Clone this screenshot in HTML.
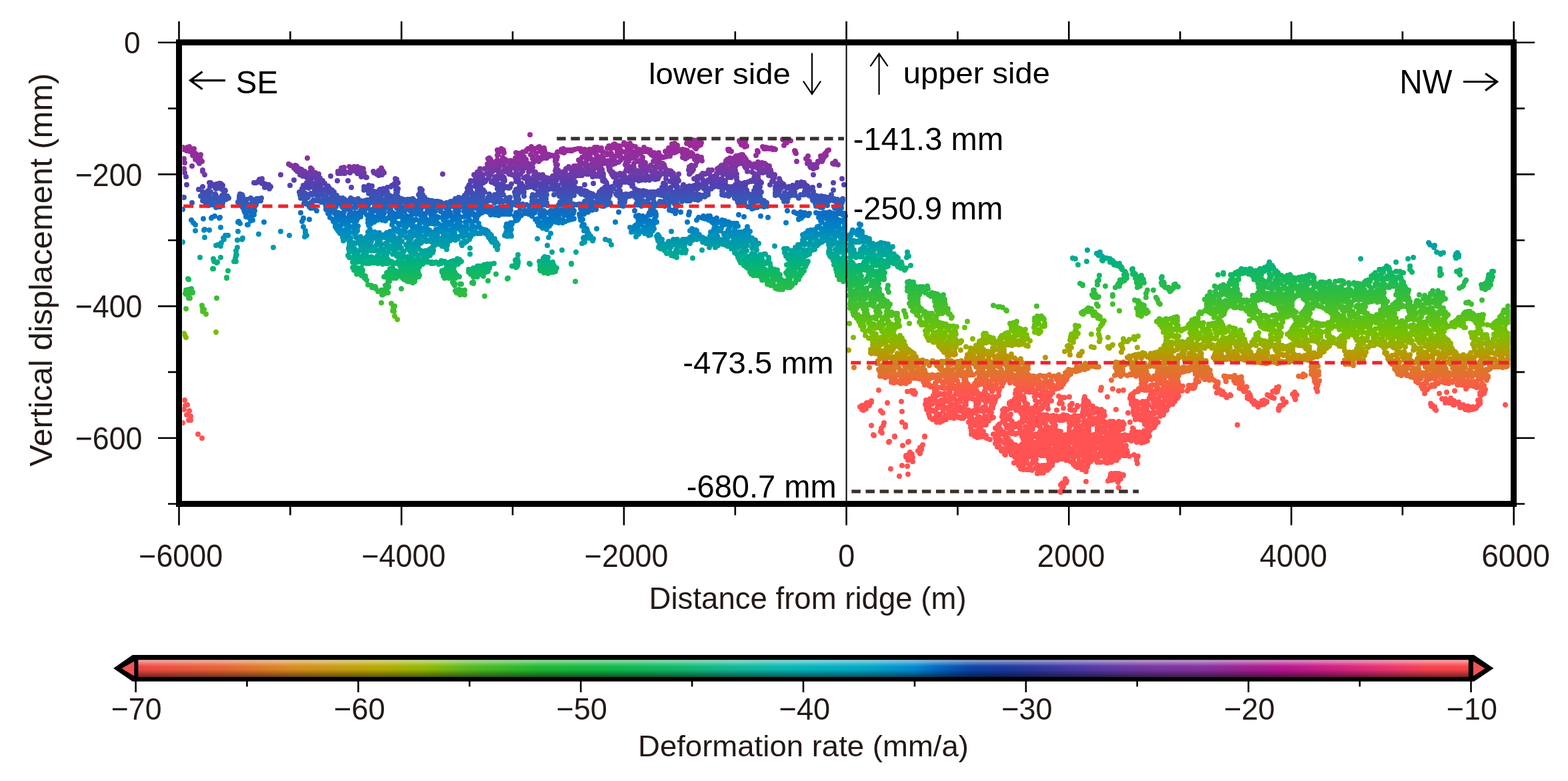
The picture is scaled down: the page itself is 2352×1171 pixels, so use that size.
<!DOCTYPE html><html><head><meta charset="utf-8"><style>html,body{margin:0;padding:0;background:#fff;overflow:hidden}svg{display:block}text{font-family:"Liberation Sans",Arial,sans-serif}</style></head><body><svg width="2352" height="1171" viewBox="0 0 2352 1171"><rect width="2352" height="1171" fill="#fff"/><defs><linearGradient id="cb" gradientUnits="userSpaceOnUse" x1="203.6" y1="0" x2="2206.5" y2="0"><stop offset="0.0000" stop-color="#f04545"/><stop offset="0.0667" stop-color="#e66535"/><stop offset="0.1167" stop-color="#d88a20"/><stop offset="0.1500" stop-color="#c89a10"/><stop offset="0.1833" stop-color="#b5aa00"/><stop offset="0.2167" stop-color="#90b800"/><stop offset="0.2500" stop-color="#55b820"/><stop offset="0.3000" stop-color="#20b830"/><stop offset="0.3500" stop-color="#10b845"/><stop offset="0.4000" stop-color="#10b865"/><stop offset="0.4500" stop-color="#10b898"/><stop offset="0.5000" stop-color="#05b5bb"/><stop offset="0.5500" stop-color="#00a5c8"/><stop offset="0.5833" stop-color="#0088d0"/><stop offset="0.6000" stop-color="#0068c0"/><stop offset="0.6250" stop-color="#0a44a8"/><stop offset="0.6500" stop-color="#1a389f"/><stop offset="0.6750" stop-color="#2e36a0"/><stop offset="0.7000" stop-color="#4438a4"/><stop offset="0.7250" stop-color="#5a38a6"/><stop offset="0.7583" stop-color="#7535a0"/><stop offset="0.8000" stop-color="#8530a0"/><stop offset="0.8333" stop-color="#a02090"/><stop offset="0.8583" stop-color="#b51590"/><stop offset="0.9000" stop-color="#d02080"/><stop offset="0.9333" stop-color="#e83070"/><stop offset="0.9667" stop-color="#f84050"/><stop offset="1.0000" stop-color="#f84545"/></linearGradient><linearGradient id="cbs" x1="0" y1="0" x2="0" y2="1"><stop offset="0" stop-color="#fff" stop-opacity="0.55"/><stop offset="0.35" stop-color="#fff" stop-opacity="0.05"/><stop offset="0.55" stop-color="#000" stop-opacity="0"/><stop offset="1" stop-color="#000" stop-opacity="0.5"/></linearGradient><linearGradient id="pg" gradientUnits="userSpaceOnUse" x1="0" y1="200" x2="0" y2="600"><stop offset="0.0000" stop-color="#a02c9c"/><stop offset="0.0550" stop-color="#9a2a9a"/><stop offset="0.1075" stop-color="#8a30a0"/><stop offset="0.1500" stop-color="#6c3aa8"/><stop offset="0.1925" stop-color="#5040b0"/><stop offset="0.2350" stop-color="#3c52b6"/><stop offset="0.2725" stop-color="#2462bc"/><stop offset="0.3075" stop-color="#0870c4"/><stop offset="0.3425" stop-color="#0080c4"/><stop offset="0.3750" stop-color="#008ebc"/><stop offset="0.4150" stop-color="#009ca8"/><stop offset="0.4500" stop-color="#00a898"/><stop offset="0.4775" stop-color="#00b084"/><stop offset="0.5250" stop-color="#10b862"/><stop offset="0.6000" stop-color="#30bc40"/><stop offset="0.6750" stop-color="#50c020"/><stop offset="0.7500" stop-color="#78c000"/><stop offset="0.8000" stop-color="#a0aa00"/><stop offset="0.8300" stop-color="#b89800"/><stop offset="0.8625" stop-color="#d08020"/><stop offset="0.9000" stop-color="#e47030"/><stop offset="0.9375" stop-color="#f46040"/><stop offset="0.9750" stop-color="#ff5450"/><stop offset="1.0000" stop-color="#ff5252"/></linearGradient></defs><clipPath id="pc"><rect x="273.5" y="68.5" width="1992.0" height="682.0"/></clipPath><g fill="url(#pg)" stroke="none" clip-path="url(#pc)"><path fill-rule="nonzero" d=""/></g><path d="M319 403h0M325 394h0M351 392h0M342 406h0M340 417h0M283 419h0M279 463h0M325 447h0M324 498h0M572 454h0M602 433h0M727 444h0M761 418h0M744 411h0M732 421h0M768 399h0M283 434h0M287 438h0M279 441h0M278 440h0M285 447h0M280 436h0M288 439h0M283 447h0M281 442h0M289 438h0M287 433h0M279 435h0M289 439h0M283 442h0M286 437h0M303 458h0M304 463h0M304 467h0M305 466h0M306 464h0M309 471h0M276 500h0M277 502h0M279 506h0M587 455h0M592 459h0M590 461h0M591 461h0M589 466h0M591 467h0M592 474h0M596 479h0M529 401h0M532 403h0M529 401h0M531 403h0M531 405h0M535 408h0M538 410h0M535 411h0M542 413h0M539 409h0M538 409h0M538 410h0M539 410h0M541 410h0M548 414h0M544 414h0M550 420h0M548 415h0M576 435h0M577 440h0M552 427h0M560 431h0M574 442h0M563 430h0M559 430h0M567 437h0M573 442h0M577 439h0M564 433h0M582 439h0M557 428h0M572 435h0M558 431h0M561 430h0M585 403h0M589 402h0M586 409h0M588 407h0M584 409h0M582 408h0M581 415h0M583 414h0M583 417h0M583 414h0M584 418h0M584 422h0M582 423h0M583 423h0M581 429h0M583 430h0M581 432h0M578 428h0M598 395h0M602 407h0M603 411h0M605 416h0M606 419h0M610 421h0M612 422h0M615 422h0M619 424h0M622 420h0M628 415h0M629 413h0M627 406h0M627 402h0M629 400h0M627 396h0M624 394h0M616 394h0M612 396h0M602 397h0M600 399h0M605 396h0M612 396h0M615 396h0M621 396h0M602 404h0M608 402h0M613 402h0M618 401h0M624 403h0M608 406h0M613 407h0M617 409h0M623 407h0M605 412h0M610 413h0M615 412h0M620 410h0M625 410h0M614 418h0M617 416h0M623 417h0M614 421h0M622 422h0M529 393h0M529 393h0M532 395h0M544 395h0M550 395h0M554 395h0M559 394h0M562 394h0M567 395h0M570 394h0M574 396h0M579 395h0M582 395h0M584 394h0M589 396h0M594 395h0M598 393h0M603 395h0M607 394h0M610 394h0M615 394h0M620 395h0M622 395h0M627 395h0M634 396h0M639 393h0M647 395h0M650 395h0M655 394h0M658 396h0M662 395h0M669 395h0M671 396h0M676 394h0M681 394h0M684 396h0M687 396h0M690 393h0M692 392h0M687 392h0M682 393h0M678 394h0M677 392h0M671 394h0M667 392h0M662 391h0M659 394h0M654 393h0M651 394h0M648 393h0M644 393h0M637 393h0M635 393h0M629 394h0M626 392h0M623 394h0M619 392h0M614 392h0M609 394h0M605 394h0M602 391h0M597 392h0M589 393h0M587 392h0M582 392h0M576 392h0M572 393h0M571 392h0M565 392h0M563 394h0M556 391h0M554 392h0M548 392h0M546 394h0M540 391h0M537 393h0M534 393h0M675 393h0M671 404h0M673 398h0M677 403h0M671 404h0M675 402h0M672 407h0M683 410h0M679 410h0M684 414h0M675 415h0M680 413h0M686 413h0M679 415h0M679 423h0M682 417h0M682 428h0M680 425h0M690 426h0M682 425h0M692 426h0M683 436h0M682 425h0M691 435h0M695 439h0M685 438h0M685 439h0M688 434h0M685 436h0M697 435h0M690 442h0M697 442h0M708 411h0M731 399h0M727 400h0M732 407h0M713 408h0M710 423h0M712 408h0M732 399h0M710 415h0M714 407h0M716 415h0M732 405h0M722 410h0M712 411h0M727 401h0M708 424h0M725 414h0M710 413h0M723 402h0M729 408h0M720 411h0M726 405h0M710 407h0M721 410h0M718 406h0M734 402h0M703 408h0M706 405h0M710 425h0M733 402h0M709 411h0M707 405h0M277 600h0M278 608h0M281 607h0M284 616h0M286 624h0M280 622h0M283 630h0M286 630h0M274 634h0M276 614h0M297 651h0M303 657h0M775 400h0M777 395h0M774 397h0M777 395h0M775 395h0M774 394h0M776 399h0M777 394h0M774 401h0M794 395h0M857 395h0M863 422h0M1259 419h0M809 392h0M810 398h0M810 404h0M814 405h0M817 408h0M822 410h0M827 408h0M828 406h0M835 402h0M831 398h0M829 393h0M823 393h0M821 392h0M816 394h0M812 395h0M818 396h0M823 394h0M829 394h0M812 399h0M819 400h0M825 399h0M830 401h0M818 403h0M824 404h0M829 406h0M1116 398h0M1120 401h0M1123 402h0M1126 405h0M1130 408h0M1133 410h0M1137 412h0M1141 415h0M1143 420h0M1148 420h0M1151 426h0M1156 428h0M1160 428h0M1163 432h0M1165 433h0M1169 434h0M1174 434h0M1181 431h0M1186 430h0M1188 428h0M1193 424h0M1198 419h0M1198 416h0M1200 414h0M1203 410h0M1206 406h0M1208 400h0M1210 396h0M1212 392h0M1206 393h0M1203 394h0M1198 396h0M1188 405h0M1185 408h0M1181 412h0M1172 419h0M1170 423h0M1166 419h0M1164 415h0M1158 413h0M1159 414h0M1153 412h0M1150 409h0M1147 406h0M1144 400h0M1140 397h0M1129 393h0M1125 392h0M1121 393h0M1116 392h0M1111 394h0M1120 397h0M1125 397h0M1129 395h0M1135 395h0M1195 399h0M1201 396h0M1207 396h0M1124 402h0M1129 403h0M1135 402h0M1140 402h0M1197 401h0M1204 404h0M1132 409h0M1137 409h0M1143 406h0M1146 405h0M1190 408h0M1192 407h0M1200 408h0M1135 410h0M1139 412h0M1146 411h0M1151 411h0M1187 413h0M1193 413h0M1196 412h0M1146 416h0M1151 419h0M1159 418h0M1163 417h0M1183 416h0M1186 416h0M1194 419h0M1197 416h0M1151 420h0M1155 422h0M1160 422h0M1169 423h0M1173 423h0M1179 421h0M1185 422h0M1192 424h0M1160 427h0M1166 429h0M1169 428h0M1178 427h0M1182 429h0M1186 427h0M1169 432h0M1172 431h0M1185 431h0M1261 401h0M1266 406h0M1264 410h0M1257 407h0M1257 409h0M1257 393h0M1263 403h0M1257 404h0M1260 409h0M1262 417h0M1265 395h0M1264 398h0M1264 416h0M1254 393h0M1266 417h0M1257 396h0M1256 401h0M1264 406h0M1264 399h0M1265 415h0M1264 418h0M1265 422h0M1264 400h0M1263 413h0M1263 409h0M1265 413h0M1257 401h0M1260 413h0M1265 393h0M1264 410h0M1261 418h0M274 221h0M271 224h0M273 223h0M284 220h0M282 221h0M276 224h0M280 226h0M281 221h0M282 223h0M285 227h0M291 223h0M286 225h0M293 230h0M289 224h0M293 231h0M294 231h0M289 228h0M289 233h0M300 237h0M299 235h0M300 235h0M295 236h0M301 232h0M293 239h0M301 240h0M303 242h0M297 242h0M299 245h0M276 238h0M277 244h0M276 253h0M277 259h0M279 265h0M288 249h0M280 277h0M421 262h0M435 278h0M461 237h0M441 270h0M496 264h0M506 271h0M274 296h0M514 297h0M519 303h0M304 255h0M304 257h0M307 262h0M322 300h0M325 276h0M329 277h0M330 275h0M329 297h0M324 293h0M315 300h0M304 301h0M307 293h0M310 288h0M314 291h0M310 290h0M324 283h0M311 295h0M341 295h0M321 278h0M328 297h0M308 289h0M343 297h0M323 279h0M313 299h0M311 292h0M323 299h0M334 278h0M313 288h0M334 299h0M334 298h0M321 278h0M336 296h0M327 299h0M320 296h0M301 294h0M323 291h0M315 275h0M304 294h0M333 284h0M332 276h0M322 299h0M338 286h0M316 288h0M310 288h0M312 286h0M323 280h0M337 285h0M321 277h0M332 283h0M341 294h0M334 301h0M320 298h0M315 301h0M323 282h0M304 288h0M325 301h0M326 282h0M314 274h0M304 280h0M339 299h0M333 293h0M325 302h0M331 300h0M327 279h0M322 294h0M316 274h0M329 275h0M337 299h0M298 284h0M336 290h0M315 280h0M335 285h0M363 292h0M360 291h0M363 297h0M359 301h0M360 295h0M359 294h0M364 294h0M359 296h0M360 301h0M359 302h0M363 293h0M388 300h0M386 302h0M390 300h0M391 301h0M388 300h0M384 302h0M389 301h0M381 274h0M386 273h0M384 274h0M389 269h0M392 273h0M393 268h0M394 274h0M391 273h0M393 273h0M393 275h0M398 276h0M400 280h0M399 277h0M397 281h0M405 281h0M403 277h0M406 280h0M404 283h0M436 248h0M441 252h0M444 255h0M446 257h0M450 262h0M454 264h0M460 266h0M463 269h0M460 274h0M455 278h0M453 285h0M453 289h0M459 293h0M462 296h0M466 304h0M468 303h0M473 301h0M477 301h0M482 303h0M486 303h0M491 301h0M493 303h0M498 304h0M501 302h0M507 302h0M511 301h0M509 297h0M505 293h0M501 288h0M498 285h0M494 282h0M492 279h0M487 275h0M484 271h0M480 267h0M478 261h0M473 259h0M469 258h0M468 254h0M466 252h0M457 257h0M453 255h0M449 253h0M445 249h0M443 248h0M436 248h0M433 246h0M440 249h0M446 252h0M452 254h0M450 260h0M454 258h0M460 260h0M465 258h0M457 261h0M462 264h0M467 264h0M471 262h0M464 269h0M470 266h0M475 266h0M462 275h0M467 273h0M475 272h0M479 275h0M485 274h0M457 279h0M464 276h0M472 276h0M476 280h0M481 278h0M490 279h0M453 283h0M456 282h0M463 282h0M470 281h0M474 283h0M479 284h0M485 284h0M492 282h0M454 287h0M458 290h0M466 290h0M472 286h0M475 286h0M483 289h0M487 288h0M494 289h0M498 290h0M460 292h0M468 292h0M475 293h0M480 292h0M485 294h0M490 291h0M498 294h0M501 291h0M470 300h0M477 299h0M484 299h0M488 296h0M495 298h0M499 300h0M503 299h0M449 288h0M450 292h0M452 294h0M451 295h0M452 297h0M457 303h0M507 257h0M507 260h0M511 260h0M517 260h0M516 260h0M517 257h0M516 251h0M512 252h0M510 257h0M514 256h0M524 250h0M525 259h0M524 258h0M531 256h0M536 260h0M540 261h0M542 265h0M549 266h0M550 266h0M546 259h0M545 253h0M541 252h0M536 250h0M531 250h0M528 252h0M526 255h0M530 253h0M535 255h0M539 256h0M525 258h0M540 258h0M546 262h0M560 257h0M561 259h0M568 263h0M573 262h0M576 259h0M572 252h0M568 256h0M574 256h0M565 261h0M664 261h0M522 271h0M527 281h0M526 297h0M550 284h0M553 290h0M558 290h0M564 289h0M564 293h0M563 296h0M563 301h0M556 300h0M552 300h0M550 300h0M547 301h0M546 304h0M552 301h0M554 302h0M558 303h0M563 303h0M569 303h0M572 304h0M574 303h0M580 303h0M582 302h0M589 303h0M594 303h0M598 304h0M603 301h0M609 303h0M610 301h0M615 303h0M620 302h0M625 302h0M629 304h0M635 302h0M641 301h0M645 303h0M648 301h0M652 303h0M655 302h0M657 302h0M646 301h0M642 300h0M634 292h0M633 285h0M631 283h0M630 283h0M630 289h0M628 292h0M630 297h0M629 301h0M626 302h0M621 300h0M616 301h0M611 300h0M605 299h0M603 299h0M597 295h0M594 291h0M596 288h0M597 283h0M597 274h0M595 269h0M593 268h0M592 278h0M588 278h0M581 281h0M586 280h0M594 282h0M594 285h0M594 290h0M593 296h0M586 294h0M582 291h0M581 288h0M581 281h0M575 283h0M570 284h0M558 279h0M553 278h0M546 280h0M546 285h0M592 275h0M596 274h0M553 279h0M586 280h0M594 278h0M548 283h0M556 283h0M561 287h0M568 286h0M577 286h0M596 283h0M557 288h0M570 289h0M574 291h0M566 297h0M571 296h0M580 295h0M585 297h0M589 295h0M630 297h0M637 296h0M565 301h0M572 301h0M573 299h0M583 301h0M585 298h0M592 298h0M598 301h0M605 300h0M629 301h0M632 301h0M639 300h0M757 270h0M756 266h0M753 263h0M764 261h0M768 262h0M765 257h0M767 252h0M767 250h0M766 245h0M766 241h0M765 241h0M758 239h0M754 236h0M756 229h0M755 225h0M752 223h0M746 225h0M747 230h0M746 233h0M746 240h0M744 242h0M734 237h0M732 238h0M731 246h0M720 253h0M716 258h0M711 262h0M706 271h0M704 277h0M703 279h0M700 289h0M697 293h0M688 296h0M682 300h0M680 304h0M684 302h0M689 303h0M693 303h0M698 303h0M701 304h0M707 301h0M710 301h0M712 303h0M719 303h0M722 303h0M725 301h0M729 304h0M733 301h0M740 302h0M742 304h0M745 301h0M749 303h0M754 303h0M759 301h0M762 303h0M768 304h0M765 296h0M760 297h0M755 292h0M752 288h0M754 284h0M758 281h0M763 282h0M765 281h0M767 276h0M747 290h0M742 292h0M734 291h0M727 288h0M725 285h0M722 283h0M720 279h0M725 274h0M728 272h0M737 273h0M742 275h0M745 277h0M748 281h0M746 283h0M749 227h0M754 228h0M747 232h0M736 239h0M747 241h0M753 240h0M758 240h0M733 244h0M738 243h0M744 245h0M749 246h0M756 243h0M758 244h0M735 248h0M740 250h0M744 249h0M749 250h0M756 248h0M765 248h0M727 253h0M732 252h0M736 252h0M742 255h0M748 253h0M756 255h0M760 252h0M766 253h0M718 259h0M722 260h0M730 260h0M735 256h0M739 257h0M748 260h0M750 259h0M758 257h0M763 260h0M716 265h0M720 263h0M724 264h0M733 265h0M736 262h0M743 265h0M747 265h0M753 263h0M713 268h0M715 271h0M722 270h0M729 270h0M733 267h0M741 269h0M746 269h0M753 268h0M757 271h0M707 272h0M714 275h0M720 273h0M727 272h0M748 276h0M755 273h0M705 280h0M712 279h0M716 279h0M721 280h0M748 281h0M753 280h0M758 280h0M761 280h0M701 282h0M706 285h0M716 285h0M719 285h0M723 285h0M748 284h0M756 282h0M700 289h0M702 290h0M708 289h0M716 287h0M723 290h0M747 290h0M753 288h0M701 292h0M709 294h0M713 292h0M720 292h0M724 294h0M732 296h0M738 296h0M744 295h0M749 292h0M753 292h0M689 298h0M691 297h0M698 301h0M706 299h0M709 297h0M715 300h0M722 301h0M730 300h0M734 300h0M738 297h0M746 299h0M750 298h0M755 301h0M764 301h0M334 304h0M327 304h0M329 310h0M310 298h0M312 307h0M317 298h0M330 310h0M320 299h0M332 306h0M308 303h0M324 311h0M320 307h0M312 302h0M332 304h0M309 307h0M310 301h0M319 307h0M324 308h0M319 299h0M327 299h0M320 304h0M325 309h0M313 308h0M326 305h0M323 299h0M313 304h0M359 298h0M357 303h0M362 308h0M367 318h0M369 322h0M369 325h0M371 337h0M372 337h0M376 331h0M379 330h0M381 322h0M382 316h0M382 310h0M384 307h0M390 301h0M392 297h0M387 298h0M385 298h0M378 299h0M376 297h0M370 299h0M366 300h0M360 297h0M359 299h0M364 298h0M370 299h0M378 300h0M383 301h0M389 300h0M361 305h0M366 305h0M371 306h0M378 305h0M383 303h0M364 311h0M371 310h0M377 310h0M380 308h0M366 315h0M374 316h0M379 314h0M370 319h0M377 318h0M373 326h0M377 324h0M376 329h0M288 304h0M274 314h0M276 296h0M305 328h0M293 346h0M331 341h0M307 356h0M357 347h0M396 333h0M388 351h0M421 347h0M434 353h0M410 371h0M464 329h0M274 363h0M300 386h0M331 386h0M320 403h0M342 406h0M340 416h0M282 418h0M451 297h0M455 297h0M456 305h0M458 302h0M460 306h0M458 305h0M464 310h0M468 308h0M466 312h0M471 312h0M471 310h0M475 316h0M488 297h0M488 302h0M488 306h0M489 311h0M489 314h0M492 320h0M495 326h0M500 332h0M503 340h0M505 343h0M508 347h0M510 350h0M514 356h0M515 361h0M517 359h0M518 352h0M517 348h0M518 344h0M518 336h0M515 332h0M516 328h0M516 325h0M516 318h0M517 314h0M517 311h0M517 307h0M516 303h0M517 299h0M514 297h0M509 299h0M499 298h0M495 299h0M493 298h0M490 301h0M493 302h0M501 302h0M507 303h0M510 304h0M515 304h0M490 309h0M496 307h0M502 308h0M506 306h0M513 309h0M493 312h0M500 310h0M504 310h0M513 310h0M515 312h0M493 315h0M496 316h0M503 317h0M508 319h0M515 319h0M494 320h0M502 320h0M504 321h0M511 324h0M499 329h0M504 327h0M507 326h0M515 328h0M502 332h0M504 333h0M511 331h0M503 337h0M509 339h0M512 337h0M510 342h0M507 346h0M513 346h0M515 352h0M287 330h0M290 334h0M293 337h0M317 327h0M318 326h0M330 326h0M329 327h0M322 324h0M306 345h0M307 344h0M314 345h0M342 353h0M338 353h0M335 357h0M336 359h0M332 364h0M329 367h0M331 369h0M327 367h0M324 368h0M358 332h0M357 333h0M360 335h0M356 360h0M363 359h0M364 357h0M451 319h0M455 327h0M455 328h0M455 327h0M453 332h0M455 340h0M458 346h0M458 349h0M460 353h0M457 355h0M356 371h0M354 376h0M355 382h0M354 382h0M354 384h0M353 387h0M354 392h0M320 388h0M321 392h0M326 393h0M582 389h0M595 384h0M598 385h0M604 385h0M609 386h0M611 386h0M616 387h0M623 390h0M628 391h0M631 390h0M635 387h0M640 387h0M645 383h0M649 379h0M650 376h0M650 375h0M649 371h0M644 374h0M643 376h0M638 376h0M632 376h0M628 373h0M625 372h0M621 370h0M625 368h0M629 366h0M632 364h0M637 361h0M640 362h0M646 362h0M647 361h0M653 360h0M661 358h0M659 362h0M654 364h0M650 367h0M652 368h0M658 366h0M663 369h0M667 370h0M670 374h0M671 368h0M671 364h0M675 361h0M680 359h0M683 360h0M687 358h0M692 365h0M693 368h0M697 364h0M700 362h0M704 359h0M706 355h0M710 351h0M717 350h0M721 350h0M728 350h0M730 351h0M733 356h0M736 360h0M738 363h0M743 369h0M746 372h0M746 374h0M747 367h0M745 364h0M742 359h0M742 358h0M737 353h0M735 351h0M732 347h0M728 345h0M725 344h0M718 335h0M715 328h0M713 327h0M717 323h0M719 321h0M723 319h0M727 317h0M732 318h0M736 322h0M742 322h0M745 322h0M748 323h0M754 321h0M758 321h0M762 321h0M765 321h0M766 315h0M766 310h0M762 311h0M759 310h0M754 312h0M749 311h0M744 312h0M738 313h0M733 310h0M730 309h0M725 309h0M724 303h0M720 298h0M715 298h0M711 299h0M707 298h0M702 299h0M693 299h0M689 297h0M686 299h0M683 298h0M676 302h0M673 304h0M670 304h0M667 305h0M661 303h0M656 304h0M652 302h0M650 303h0M645 303h0M641 301h0M638 302h0M632 299h0M628 301h0M619 298h0M615 299h0M611 299h0M605 299h0M602 298h0M596 298h0M591 299h0M589 297h0M585 299h0M581 298h0M578 299h0M572 298h0M570 299h0M565 300h0M560 299h0M557 297h0M552 300h0M546 304h0M542 303h0M541 301h0M537 298h0M530 299h0M528 300h0M522 301h0M522 305h0M522 309h0M523 314h0M525 317h0M524 322h0M524 325h0M523 328h0M522 334h0M523 342h0M523 345h0M524 348h0M522 354h0M522 357h0M524 362h0M524 365h0M524 369h0M523 373h0M524 378h0M522 383h0M524 386h0M532 388h0M536 387h0M545 387h0M547 386h0M554 387h0M557 387h0M559 387h0M564 389h0M568 391h0M572 391h0M580 390h0M536 328h0M541 325h0M550 322h0M552 329h0M552 334h0M553 338h0M556 336h0M561 333h0M562 330h0M566 330h0M573 330h0M578 331h0M582 327h0M589 332h0M588 337h0M591 342h0M587 348h0M585 347h0M580 349h0M576 352h0M569 349h0M562 348h0M559 350h0M555 344h0M552 348h0M552 353h0M550 355h0M551 361h0M546 358h0M541 355h0M536 345h0M537 339h0M535 330h0M524 304h0M529 303h0M537 303h0M550 303h0M558 302h0M564 305h0M569 301h0M575 302h0M583 303h0M587 301h0M591 301h0M600 303h0M603 303h0M608 303h0M615 301h0M623 304h0M628 301h0M634 302h0M663 305h0M679 303h0M685 301h0M690 303h0M700 304h0M701 303h0M709 301h0M715 302h0M722 302h0M524 308h0M533 307h0M539 307h0M545 307h0M552 307h0M553 306h0M562 309h0M568 306h0M574 309h0M577 307h0M585 305h0M588 307h0M598 310h0M601 309h0M609 309h0M614 310h0M620 310h0M625 306h0M631 307h0M636 307h0M642 308h0M647 307h0M654 308h0M659 308h0M664 308h0M670 309h0M678 309h0M683 306h0M691 308h0M694 307h0M700 308h0M708 307h0M713 306h0M717 307h0M723 307h0M524 315h0M531 311h0M534 311h0M542 314h0M547 312h0M552 312h0M559 314h0M566 314h0M570 312h0M575 315h0M580 311h0M586 314h0M595 312h0M601 314h0M604 311h0M612 312h0M615 314h0M622 312h0M628 311h0M632 312h0M639 310h0M645 314h0M650 313h0M658 311h0M661 313h0M669 312h0M673 314h0M682 311h0M686 313h0M691 310h0M697 313h0M704 313h0M707 311h0M714 312h0M720 314h0M725 315h0M731 314h0M737 313h0M751 314h0M755 314h0M761 315h0M525 316h0M532 319h0M539 318h0M543 319h0M547 316h0M556 317h0M563 316h0M566 316h0M570 316h0M576 317h0M584 318h0M589 319h0M596 320h0M600 318h0M607 317h0M615 316h0M621 317h0M624 318h0M631 317h0M634 320h0M641 316h0M649 318h0M653 317h0M661 317h0M665 320h0M670 317h0M675 318h0M683 317h0M688 316h0M696 317h0M702 317h0M707 315h0M710 320h0M718 318h0M723 317h0M728 316h0M735 318h0M740 318h0M745 318h0M751 318h0M757 318h0M762 317h0M530 323h0M536 324h0M541 321h0M553 324h0M558 322h0M566 324h0M571 321h0M576 320h0M584 325h0M589 322h0M595 321h0M601 323h0M603 324h0M610 324h0M617 323h0M624 321h0M630 322h0M632 322h0M638 321h0M646 321h0M650 322h0M656 325h0M665 324h0M671 322h0M676 322h0M682 324h0M687 321h0M690 325h0M698 323h0M705 321h0M710 322h0M716 322h0M743 321h0M528 327h0M531 327h0M556 328h0M563 326h0M568 327h0M575 326h0M578 328h0M585 327h0M591 326h0M596 325h0M603 326h0M609 328h0M614 328h0M618 329h0M624 329h0M632 328h0M638 327h0M644 330h0M647 326h0M654 328h0M658 326h0M668 327h0M670 326h0M678 326h0M683 328h0M689 328h0M696 325h0M703 326h0M704 329h0M713 328h0M528 331h0M535 331h0M553 331h0M557 330h0M563 331h0M592 332h0M597 335h0M604 332h0M610 334h0M617 333h0M620 332h0M629 332h0M634 333h0M639 333h0M644 333h0M652 331h0M656 334h0M665 330h0M669 333h0M675 333h0M678 332h0M686 334h0M690 333h0M698 333h0M701 332h0M708 333h0M714 331h0M526 340h0M532 337h0M598 336h0M602 337h0M606 337h0M615 337h0M620 339h0M623 340h0M629 337h0M638 335h0M642 336h0M648 335h0M652 336h0M658 336h0M664 338h0M670 339h0M677 337h0M682 339h0M687 339h0M693 340h0M700 338h0M708 336h0M710 339h0M718 339h0M523 342h0M531 342h0M592 343h0M597 343h0M606 344h0M609 341h0M619 342h0M622 342h0M629 344h0M635 342h0M640 343h0M644 345h0M654 344h0M659 343h0M665 341h0M670 344h0M677 344h0M682 342h0M688 343h0M691 342h0M699 344h0M705 343h0M708 341h0M715 341h0M720 341h0M725 344h0M524 350h0M531 347h0M536 346h0M554 350h0M561 350h0M585 348h0M592 346h0M596 347h0M601 346h0M608 348h0M615 348h0M620 350h0M626 348h0M630 350h0M636 346h0M642 349h0M650 348h0M655 350h0M661 347h0M665 349h0M671 346h0M678 349h0M682 349h0M691 346h0M693 348h0M700 350h0M708 347h0M713 348h0M716 350h0M722 346h0M729 345h0M532 351h0M534 350h0M553 355h0M560 353h0M565 350h0M569 352h0M582 352h0M587 352h0M591 354h0M600 353h0M603 353h0M612 355h0M618 351h0M624 353h0M627 355h0M635 355h0M638 353h0M645 352h0M652 353h0M656 353h0M665 353h0M670 353h0M677 351h0M680 353h0M687 355h0M692 353h0M698 353h0M704 355h0M707 352h0M731 352h0M737 354h0M526 357h0M534 356h0M538 359h0M557 356h0M563 357h0M567 360h0M571 357h0M577 356h0M584 359h0M591 356h0M597 358h0M600 359h0M609 356h0M616 359h0M618 355h0M627 359h0M629 359h0M638 358h0M644 360h0M647 359h0M656 357h0M661 359h0M667 358h0M670 357h0M677 356h0M695 356h0M734 356h0M530 364h0M535 364h0M539 362h0M546 362h0M554 361h0M557 362h0M566 363h0M570 362h0M578 365h0M581 363h0M589 362h0M592 361h0M599 364h0M603 362h0M613 363h0M616 364h0M624 362h0M626 363h0M659 365h0M665 363h0M671 361h0M693 364h0M527 367h0M532 366h0M541 368h0M545 367h0M549 367h0M556 368h0M564 368h0M566 366h0M572 367h0M580 370h0M584 369h0M590 368h0M597 366h0M600 369h0M609 367h0M616 369h0M619 366h0M653 366h0M743 367h0M523 372h0M530 372h0M533 374h0M541 374h0M546 371h0M553 372h0M558 371h0M563 374h0M571 373h0M575 374h0M582 371h0M587 373h0M594 371h0M598 372h0M602 372h0M611 373h0M614 374h0M620 374h0M647 372h0M527 377h0M532 379h0M537 378h0M544 376h0M550 378h0M557 376h0M562 376h0M566 376h0M571 378h0M577 379h0M582 378h0M591 376h0M594 379h0M601 380h0M606 377h0M615 377h0M621 380h0M623 378h0M638 379h0M643 378h0M646 380h0M531 384h0M536 381h0M541 385h0M545 382h0M551 385h0M557 385h0M566 384h0M568 384h0M576 383h0M580 383h0M589 381h0M595 383h0M598 382h0M605 384h0M611 385h0M617 383h0M625 382h0M626 382h0M633 381h0M639 381h0M525 386h0M558 387h0M562 387h0M575 387h0M604 386h0M618 386h0M627 386h0M633 389h0M686 388h0M680 391h0M685 392h0M689 389h0M760 336h0M759 340h0M761 344h0M759 349h0M757 353h0M761 354h0M767 354h0M766 351h0M766 345h0M766 340h0M768 336h0M766 334h0M765 336h0M760 343h0M767 344h0M760 351h0M760 354h0M762 354h0M547 417h0M544 412h0M538 404h0M539 403h0M537 402h0M544 411h0M542 402h0M536 404h0M542 408h0M542 412h0M545 414h0M540 402h0M544 405h0M535 402h0M540 402h0M539 409h0M542 407h0M548 416h0M616 408h0M617 409h0M581 415h0M593 406h0M604 400h0M613 413h0M618 415h0M616 411h0M584 414h0M600 414h0M603 412h0M622 405h0M612 406h0M621 413h0M605 405h0M590 415h0M618 404h0M618 408h0M605 408h0M597 409h0M580 416h0M611 410h0M618 411h0M617 401h0M604 413h0M584 408h0M623 412h0M597 407h0M590 417h0M617 411h0M592 412h0M601 413h0M595 415h0M612 407h0M605 414h0M604 417h0M576 415h0M613 407h0M621 401h0M593 412h0M619 405h0M628 411h0M580 409h0M624 414h0M605 407h0M592 410h0M594 417h0M626 412h0M666 405h0M666 407h0M670 400h0M677 405h0M681 409h0M679 405h0M683 412h0M682 408h0M675 404h0M663 408h0M680 402h0M686 415h0M686 414h0M676 402h0M670 413h0M663 406h0M672 410h0M665 414h0M672 416h0M672 405h0M667 417h0M679 414h0M664 409h0M683 417h0M673 417h0M677 417h0M678 406h0M678 416h0M689 415h0M670 414h0M663 407h0M673 410h0M669 412h0M681 401h0M741 395h0M731 402h0M724 400h0M710 414h0M703 406h0M726 397h0M710 403h0M727 404h0M732 397h0M713 413h0M720 399h0M731 396h0M711 404h0M715 405h0M709 403h0M731 401h0M735 398h0M706 409h0M706 411h0M730 402h0M707 408h0M727 404h0M710 405h0M716 399h0M712 410h0M710 402h0M715 405h0M703 404h0M703 406h0M728 399h0M713 412h0M715 415h0M714 408h0M736 396h0M724 404h0M744 411h0M762 417h0M768 399h0M705 372h0M705 381h0M786 294h0M786 288h0M785 283h0M791 281h0M796 280h0M802 282h0M807 287h0M805 293h0M811 293h0M813 291h0M820 292h0M821 285h0M819 282h0M826 283h0M831 284h0M836 284h0M831 292h0M838 291h0M839 294h0M845 292h0M848 292h0M853 294h0M858 293h0M861 293h0M872 291h0M878 293h0M882 293h0M885 293h0M889 291h0M894 294h0M897 292h0M906 292h0M911 293h0M915 292h0M924 291h0M926 293h0M930 292h0M939 291h0M931 290h0M930 286h0M930 278h0M934 273h0M938 273h0M942 271h0M944 274h0M948 277h0M948 279h0M949 277h0M951 270h0M958 271h0M962 270h0M968 270h0M972 269h0M977 268h0M983 269h0M987 268h0M989 264h0M992 261h0M998 261h0M999 263h0M995 275h0M993 281h0M992 287h0M988 286h0M985 288h0M979 288h0M975 288h0M969 287h0M965 286h0M959 286h0M956 286h0M952 283h0M948 290h0M945 291h0M950 292h0M954 291h0M958 292h0M962 292h0M965 293h0M970 292h0M975 292h0M977 291h0M983 292h0M989 292h0M993 293h0M997 292h0M1004 293h0M1012 293h0M1018 292h0M1018 287h0M1017 285h0M1016 280h0M1018 271h0M1016 267h0M1018 261h0M1010 260h0M1007 257h0M1005 256h0M999 254h0M997 250h0M996 247h0M994 245h0M989 242h0M987 236h0M992 236h0M995 236h0M999 235h0M1005 234h0M1014 228h0M1018 226h0M1018 224h0M1016 218h0M1012 215h0M1008 216h0M1003 222h0M1003 224h0M998 227h0M988 229h0M981 229h0M975 225h0M971 224h0M966 221h0M958 224h0M953 220h0M949 219h0M945 215h0M939 216h0M936 214h0M922 216h0M917 219h0M914 219h0M902 222h0M896 221h0M892 221h0M888 224h0M884 224h0M877 224h0M871 223h0M867 223h0M862 224h0M857 225h0M855 226h0M851 225h0M845 223h0M842 224h0M837 228h0M836 228h0M824 232h0M820 231h0M817 226h0M816 222h0M809 220h0M802 223h0M797 220h0M792 223h0M790 225h0M784 228h0M779 230h0M774 229h0M773 237h0M772 241h0M773 244h0M774 250h0M774 255h0M774 259h0M774 266h0M774 272h0M774 284h0M772 288h0M773 291h0M777 293h0M976 248h0M968 244h0M963 241h0M964 236h0M961 231h0M959 226h0M962 228h0M966 227h0M969 227h0M974 229h0M977 232h0M982 235h0M985 240h0M980 242h0M895 236h0M901 240h0M904 242h0M907 245h0M913 250h0M917 247h0M920 246h0M923 245h0M928 243h0M931 240h0M938 247h0M942 249h0M939 256h0M936 260h0M932 262h0M930 260h0M923 261h0M919 258h0M914 255h0M915 253h0M916 258h0M918 262h0M920 265h0M923 274h0M909 273h0M907 270h0M905 261h0M904 259h0M903 254h0M901 250h0M900 244h0M897 242h0M899 288h0M886 290h0M883 289h0M880 287h0M877 286h0M871 283h0M867 283h0M862 280h0M863 273h0M859 269h0M859 265h0M862 265h0M867 263h0M870 263h0M873 263h0M880 261h0M883 261h0M888 260h0M889 265h0M895 264h0M898 260h0M901 265h0M904 271h0M906 272h0M910 278h0M907 281h0M903 284h0M891 226h0M888 228h0M882 231h0M877 233h0M873 236h0M871 239h0M868 240h0M861 249h0M853 250h0M849 253h0M846 257h0M845 258h0M840 263h0M838 266h0M836 261h0M838 256h0M836 254h0M836 247h0M835 239h0M836 235h0M834 232h0M843 228h0M846 229h0M850 226h0M854 225h0M858 226h0M872 227h0M876 226h0M884 227h0M803 258h0M799 256h0M799 251h0M797 249h0M794 246h0M800 244h0M803 241h0M808 242h0M811 239h0M815 237h0M820 237h0M825 234h0M832 235h0M833 242h0M834 247h0M834 253h0M833 256h0M834 260h0M835 266h0M829 264h0M822 267h0M818 266h0M814 262h0M808 262h0M913 219h0M920 217h0M925 218h0M930 219h0M937 217h0M943 217h0M947 220h0M1008 220h0M1010 220h0M795 223h0M801 224h0M807 221h0M813 223h0M895 224h0M898 224h0M902 225h0M911 222h0M916 223h0M923 222h0M930 224h0M931 225h0M941 222h0M946 225h0M964 224h0M968 225h0M975 226h0M1002 225h0M1010 224h0M1016 223h0M779 231h0M784 228h0M789 227h0M798 226h0M804 230h0M810 227h0M816 228h0M845 227h0M891 229h0M894 227h0M901 226h0M905 228h0M911 230h0M917 230h0M926 228h0M930 231h0M937 228h0M944 227h0M950 228h0M953 228h0M960 230h0M966 227h0M977 230h0M981 229h0M1000 227h0M1006 228h0M1011 229h0M778 232h0M781 232h0M786 235h0M796 232h0M799 235h0M807 236h0M814 233h0M815 232h0M828 233h0M879 236h0M885 235h0M894 231h0M896 234h0M903 234h0M911 232h0M916 232h0M923 234h0M928 234h0M931 235h0M940 234h0M945 233h0M952 234h0M955 234h0M980 234h0M986 233h0M991 234h0M999 234h0M780 238h0M786 240h0M789 239h0M799 238h0M804 240h0M808 237h0M833 240h0M880 240h0M885 238h0M888 239h0M894 241h0M902 239h0M905 237h0M912 241h0M917 239h0M922 241h0M931 240h0M937 237h0M941 236h0M948 237h0M952 237h0M961 240h0M964 241h0M988 240h0M778 244h0M780 245h0M786 243h0M792 245h0M870 245h0M875 245h0M879 244h0M888 245h0M892 242h0M904 243h0M908 244h0M915 245h0M922 245h0M939 244h0M943 242h0M951 245h0M957 242h0M962 245h0M968 245h0M985 242h0M990 244h0M779 249h0M787 249h0M793 248h0M835 248h0M862 250h0M864 249h0M871 251h0M879 249h0M882 248h0M889 248h0M895 247h0M901 251h0M941 250h0M945 250h0M951 251h0M961 249h0M966 251h0M970 250h0M974 250h0M983 250h0M986 247h0M994 249h0M778 253h0M782 253h0M787 252h0M793 252h0M855 253h0M860 256h0M864 254h0M868 255h0M875 255h0M883 254h0M888 254h0M891 253h0M897 252h0M914 254h0M940 253h0M945 251h0M950 254h0M956 256h0M962 255h0M970 255h0M974 254h0M982 252h0M984 251h0M991 253h0M999 256h0M780 261h0M784 257h0M793 258h0M799 256h0M802 258h0M837 260h0M848 257h0M857 260h0M861 261h0M869 257h0M871 257h0M879 259h0M884 260h0M890 258h0M897 261h0M899 258h0M944 257h0M950 261h0M954 261h0M960 260h0M966 257h0M969 260h0M977 257h0M983 257h0M987 260h0M995 260h0M1002 258h0M1006 258h0M776 265h0M781 261h0M789 265h0M793 266h0M801 263h0M807 265h0M810 265h0M842 264h0M846 265h0M850 262h0M856 264h0M864 262h0M870 261h0M905 265h0M923 266h0M929 263h0M934 265h0M937 264h0M945 265h0M950 264h0M958 263h0M963 265h0M968 264h0M974 265h0M979 263h0M985 264h0M1003 261h0M1008 264h0M1013 266h0M773 266h0M778 268h0M786 267h0M791 268h0M797 269h0M803 270h0M809 267h0M815 269h0M821 271h0M825 270h0M830 269h0M835 270h0M843 268h0M849 268h0M854 269h0M924 268h0M931 271h0M938 268h0M943 267h0M948 270h0M955 267h0M969 269h0M974 270h0M984 268h0M999 268h0M1007 271h0M1011 267h0M777 273h0M782 275h0M791 273h0M796 273h0M800 275h0M808 275h0M813 275h0M819 276h0M824 273h0M827 274h0M834 271h0M843 273h0M849 271h0M852 275h0M859 274h0M910 275h0M927 274h0M947 274h0M998 276h0M1005 272h0M1010 273h0M1015 274h0M779 280h0M785 279h0M793 278h0M803 279h0M810 280h0M814 281h0M820 280h0M828 278h0M831 278h0M837 278h0M845 277h0M851 280h0M855 279h0M860 280h0M912 280h0M918 280h0M926 278h0M928 280h0M998 278h0M1006 281h0M1010 278h0M777 283h0M783 282h0M812 282h0M817 282h0M836 284h0M841 284h0M847 284h0M851 285h0M857 283h0M864 286h0M868 283h0M910 284h0M914 282h0M920 283h0M929 285h0M955 285h0M999 285h0M1003 283h0M1006 284h0M1015 282h0M774 289h0M780 288h0M809 288h0M814 289h0M837 290h0M844 289h0M850 287h0M854 287h0M861 287h0M864 287h0M870 289h0M877 289h0M881 289h0M900 287h0M906 287h0M913 290h0M917 287h0M926 287h0M930 290h0M949 291h0M955 288h0M959 290h0M964 288h0M968 287h0M975 291h0M981 288h0M990 290h0M993 287h0M999 288h0M1007 288h0M1013 288h0M795 202h0M877 277h0M890 275h0M1045 211h0M1051 214h0M1039 218h0M1049 218h0M1052 214h0M1040 210h0M1040 217h0M1047 218h0M1046 220h0M1051 217h0M1031 209h0M1046 212h0M1042 215h0M1044 223h0M1035 218h0M1038 213h0M1049 214h0M1049 218h0M1042 221h0M1031 213h0M1048 213h0M1033 214h0M1033 215h0M1046 210h0M1046 216h0M1046 210h0M1042 221h0M1046 211h0M1030 215h0M1043 214h0M1052 214h0M1037 214h0M1034 212h0M1093 226h0M1097 227h0M1094 224h0M1092 224h0M1115 215h0M1109 211h0M1112 217h0M1118 216h0M1110 213h0M1112 215h0M1117 213h0M1115 218h0M1117 212h0M1117 214h0M1117 220h0M1118 210h0M1120 219h0M1118 211h0M1136 226h0M1137 228h0M1134 233h0M1144 220h0M1146 223h0M1149 223h0M1152 222h0M1157 222h0M1154 223h0M1149 221h0M1148 221h0M1152 222h0M1159 224h0M1163 224h0M1161 223h0M1174 209h0M1176 218h0M1180 214h0M1186 211h0M1181 209h0M1179 209h0M1178 214h0M1180 214h0M1193 228h0M1193 229h0M1192 226h0M1193 229h0M1194 230h0M1193 227h0M1194 230h0M1212 234h0M1209 238h0M1210 238h0M1213 243h0M1211 245h0M1214 242h0M1212 245h0M1215 249h0M1216 251h0M1215 247h0M1219 247h0M1217 250h0M1219 251h0M1221 251h0M1219 250h0M1220 253h0M1220 249h0M1221 248h0M1225 251h0M1220 248h0M1226 245h0M1223 247h0M1227 242h0M1228 242h0M1231 240h0M1233 242h0M1232 238h0M1234 240h0M1233 236h0M1236 236h0M1237 231h0M1239 233h0M1238 231h0M1239 233h0M1239 229h0M1238 230h0M1243 225h0M1241 226h0M1252 245h0M1251 246h0M1251 245h0M1255 246h0M1257 247h0M1251 245h0M1253 242h0M1249 245h0M1254 245h0M1255 246h0M1024 236h0M1029 236h0M1028 238h0M1031 236h0M1037 234h0M1042 235h0M1042 239h0M1045 243h0M1053 241h0M1052 236h0M1050 236h0M1046 234h0M1039 231h0M1037 229h0M1031 226h0M1028 225h0M1024 224h0M1024 230h0M1028 230h0M1037 230h0M1028 232h0M1032 231h0M1038 234h0M1043 237h0M1047 240h0M1034 250h0M1033 255h0M1034 261h0M1035 260h0M1038 257h0M1043 248h0M1037 248h0M1034 252h0M1040 254h0M1035 257h0M1025 277h0M1024 280h0M1023 285h0M1023 288h0M1023 294h0M1028 292h0M1031 293h0M1034 293h0M1039 292h0M1045 291h0M1048 282h0M1052 279h0M1055 277h0M1056 283h0M1059 287h0M1058 292h0M1062 292h0M1062 288h0M1063 283h0M1067 283h0M1069 280h0M1073 279h0M1078 280h0M1084 278h0M1083 282h0M1083 287h0M1083 292h0M1087 293h0M1093 294h0M1095 291h0M1100 292h0M1103 293h0M1107 293h0M1113 293h0M1116 291h0M1121 292h0M1125 292h0M1130 292h0M1134 291h0M1136 293h0M1140 294h0M1142 288h0M1139 283h0M1140 280h0M1141 273h0M1142 274h0M1138 270h0M1137 265h0M1135 262h0M1140 259h0M1144 259h0M1149 258h0M1153 263h0M1157 264h0M1160 268h0M1158 272h0M1155 277h0M1163 280h0M1163 284h0M1163 289h0M1163 293h0M1166 292h0M1172 294h0M1177 292h0M1184 293h0M1187 293h0M1193 293h0M1192 288h0M1192 280h0M1195 281h0M1200 279h0M1207 279h0M1208 283h0M1207 287h0M1206 292h0M1213 293h0M1216 293h0M1223 293h0M1219 281h0M1214 282h0M1211 279h0M1206 274h0M1202 273h0M1196 274h0M1189 278h0M1183 280h0M1180 281h0M1175 276h0M1172 274h0M1169 268h0M1162 263h0M1157 259h0M1156 255h0M1154 249h0M1149 247h0M1147 245h0M1143 244h0M1124 244h0M1119 239h0M1117 236h0M1114 232h0M1109 233h0M1104 234h0M1101 237h0M1095 237h0M1091 239h0M1089 241h0M1087 246h0M1082 248h0M1079 251h0M1076 253h0M1068 255h0M1063 255h0M1059 260h0M1054 260h0M1051 263h0M1046 265h0M1041 268h0M1047 276h0M1042 278h0M1039 279h0M1034 279h0M1030 280h0M1136 269h0M1135 274h0M1135 279h0M1133 281h0M1131 286h0M1133 290h0M1129 291h0M1122 290h0M1120 290h0M1120 285h0M1118 283h0M1118 278h0M1118 274h0M1122 273h0M1127 272h0M1132 272h0M1102 282h0M1098 280h0M1093 280h0M1089 280h0M1088 276h0M1087 271h0M1092 266h0M1096 265h0M1105 266h0M1102 262h0M1105 261h0M1103 256h0M1103 250h0M1107 246h0M1113 245h0M1118 251h0M1121 257h0M1128 258h0M1131 267h0M1126 271h0M1122 273h0M1117 274h0M1114 275h0M1108 274h0M1105 269h0M1106 273h0M1103 277h0M1105 234h0M1112 232h0M1104 237h0M1109 239h0M1114 238h0M1118 239h0M1094 243h0M1098 243h0M1103 243h0M1109 241h0M1116 244h0M1122 243h0M1137 243h0M1086 249h0M1089 247h0M1097 248h0M1117 249h0M1124 248h0M1131 246h0M1138 249h0M1142 247h0M1150 248h0M1081 255h0M1085 254h0M1092 253h0M1098 254h0M1120 253h0M1129 251h0M1136 252h0M1141 253h0M1146 254h0M1149 253h0M1064 260h0M1065 257h0M1075 260h0M1078 259h0M1085 257h0M1092 258h0M1095 260h0M1131 260h0M1139 256h0M1144 256h0M1147 256h0M1154 260h0M1053 262h0M1058 261h0M1066 264h0M1072 264h0M1075 263h0M1084 261h0M1087 261h0M1092 262h0M1100 261h0M1132 263h0M1155 263h0M1162 262h0M1046 269h0M1051 266h0M1054 269h0M1062 270h0M1068 267h0M1071 269h0M1077 268h0M1083 268h0M1097 266h0M1132 270h0M1136 267h0M1161 267h0M1046 273h0M1055 272h0M1060 274h0M1066 272h0M1071 275h0M1078 274h0M1083 274h0M1088 272h0M1138 274h0M1164 275h0M1170 271h0M1034 280h0M1052 277h0M1059 279h0M1068 277h0M1071 280h0M1080 279h0M1108 279h0M1111 277h0M1138 278h0M1165 279h0M1170 279h0M1176 278h0M1184 280h0M1193 279h0M1201 279h0M1208 277h0M1025 282h0M1029 284h0M1034 284h0M1040 281h0M1045 284h0M1060 284h0M1087 282h0M1093 285h0M1098 285h0M1106 282h0M1111 282h0M1114 282h0M1135 285h0M1137 281h0M1169 285h0M1172 282h0M1180 282h0M1186 283h0M1190 281h0M1210 284h0M1214 285h0M1026 288h0M1034 289h0M1038 288h0M1084 289h0M1092 290h0M1096 288h0M1103 288h0M1106 288h0M1112 287h0M1138 289h0M1163 290h0M1169 287h0M1177 289h0M1184 290h0M1191 287h0M1208 289h0M1212 286h0M1220 287h0M1229 278h0M1250 274h0M1250 285h0M1247 292h0M1263 268h0M1266 277h0M1195 242h0M1220 262h0M1231 234h0M776 292h0M773 292h0M774 297h0M773 303h0M773 307h0M778 308h0M782 308h0M787 308h0M790 307h0M794 309h0M799 307h0M803 307h0M807 309h0M813 308h0M816 307h0M821 308h0M820 304h0M819 298h0M818 294h0M812 293h0M807 292h0M803 293h0M799 292h0M798 296h0M798 302h0M798 306h0M784 306h0M779 307h0M777 302h0M778 299h0M773 293h0M802 293h0M816 294h0M801 301h0M805 301h0M812 297h0M816 300h0M803 302h0M807 302h0M812 304h0M843 298h0M840 303h0M838 307h0M843 307h0M848 307h0M852 308h0M857 308h0M859 308h0M864 307h0M870 308h0M874 307h0M878 307h0M883 308h0M887 309h0M890 307h0M903 309h0M906 309h0M910 307h0M916 307h0M915 304h0M913 297h0M915 293h0M908 293h0M905 294h0M901 294h0M896 293h0M894 295h0M889 293h0M883 293h0M881 294h0M877 302h0M877 305h0M874 306h0M869 306h0M865 307h0M860 306h0M858 308h0M855 301h0M855 298h0M855 292h0M848 292h0M847 297h0M852 296h0M882 295h0M886 297h0M893 295h0M899 298h0M903 296h0M910 298h0M845 300h0M849 300h0M853 301h0M881 299h0M887 301h0M894 303h0M901 303h0M907 301h0M912 299h0M847 305h0M855 304h0M870 307h0M885 305h0M896 305h0M904 305h0M909 305h0M913 306h0M933 292h0M930 298h0M930 304h0M931 308h0M935 309h0M937 303h0M938 298h0M937 294h0M943 294h0M945 294h0M952 295h0M956 296h0M955 298h0M955 305h0M954 307h0M957 307h0M962 309h0M966 307h0M970 306h0M975 309h0M979 307h0M982 309h0M987 308h0M991 308h0M997 309h0M1000 307h0M1003 308h0M1012 306h0M1017 308h0M1015 302h0M1016 298h0M1017 294h0M1008 294h0M1003 294h0M999 294h0M998 296h0M996 302h0M990 302h0M980 297h0M981 293h0M975 293h0M972 294h0M967 292h0M961 292h0M960 294h0M955 293h0M950 293h0M946 293h0M940 294h0M937 292h0M935 300h0M956 297h0M960 299h0M964 301h0M972 299h0M976 297h0M999 297h0M1006 300h0M1011 297h0M933 303h0M959 306h0M961 303h0M968 303h0M975 306h0M981 303h0M987 306h0M990 305h0M996 306h0M1004 303h0M1010 303h0M1012 304h0M774 319h0M772 324h0M774 327h0M773 331h0M776 330h0M778 327h0M782 323h0M788 320h0M793 321h0M798 324h0M806 333h0M808 338h0M811 339h0M814 342h0M820 344h0M824 339h0M826 336h0M828 333h0M834 333h0M838 334h0M844 334h0M848 332h0M853 330h0M857 329h0M861 328h0M860 320h0M861 316h0M859 314h0M854 314h0M850 314h0M844 315h0M841 315h0M838 315h0M834 314h0M828 316h0M826 316h0M816 316h0M813 316h0M809 314h0M804 315h0M800 315h0M794 314h0M788 316h0M786 316h0M780 315h0M778 320h0M795 321h0M802 319h0M810 321h0M817 321h0M821 319h0M826 322h0M832 321h0M837 320h0M841 319h0M848 319h0M853 322h0M775 327h0M807 328h0M812 325h0M817 326h0M824 328h0M829 328h0M835 325h0M838 325h0M846 323h0M852 324h0M857 327h0M803 329h0M809 333h0M816 331h0M820 332h0M826 332h0M831 331h0M839 331h0M844 330h0M812 336h0M817 337h0M821 337h0M814 340h0M817 341h0M871 313h0M873 318h0M876 321h0M882 318h0M888 315h0M894 314h0M894 313h0M883 313h0M880 316h0M875 314h0M882 317h0M869 321h0M870 325h0M871 322h0M870 322h0M874 329h0M871 330h0M873 329h0M871 330h0M873 339h0M876 337h0M874 337h0M874 337h0M880 343h0M876 339h0M877 344h0M881 346h0M876 346h0M881 348h0M883 351h0M881 352h0M882 354h0M883 350h0M881 353h0M883 357h0M886 356h0M886 354h0M890 358h0M889 358h0M889 359h0M889 361h0M873 365h0M877 363h0M876 356h0M875 357h0M876 360h0M945 341h0M947 348h0M954 355h0M958 351h0M962 347h0M965 348h0M970 349h0M973 353h0M976 352h0M981 343h0M985 333h0M983 331h0M984 321h0M983 318h0M980 315h0M976 315h0M974 319h0M972 323h0M968 327h0M964 324h0M961 325h0M958 323h0M952 316h0M954 324h0M957 328h0M957 334h0M953 338h0M952 339h0M948 344h0M975 320h0M981 320h0M976 322h0M984 324h0M959 331h0M965 330h0M968 329h0M974 331h0M982 328h0M960 332h0M965 332h0M971 335h0M978 333h0M981 335h0M957 338h0M962 337h0M970 339h0M974 340h0M980 337h0M948 344h0M954 345h0M959 345h0M966 342h0M969 344h0M979 346h0M953 348h0M957 349h0M961 347h0M967 350h0M976 347h0M1011 315h0M1010 316h0M1014 315h0M1012 316h0M1012 316h0M1005 315h0M1013 320h0M1006 315h0M1004 315h0M1013 320h0M1008 316h0M985 354h0M986 357h0M987 361h0M988 371h0M991 373h0M997 376h0M1000 380h0M1007 383h0M1011 384h0M1015 386h0M1016 379h0M1016 372h0M1018 368h0M1017 364h0M1016 359h0M1015 359h0M1010 359h0M1003 362h0M1001 365h0M997 369h0M995 366h0M993 359h0M989 355h0M987 352h0M992 359h0M991 361h0M993 364h0M1007 363h0M1013 361h0M989 368h0M992 369h0M1000 368h0M1003 370h0M1011 367h0M1016 367h0M997 373h0M1003 371h0M1006 371h0M1014 375h0M1005 378h0M1011 380h0M1016 376h0M842 316h0M852 318h0M928 318h0M923 333h0M895 343h0M1007 347h0M806 358h0M823 356h0M826 350h0M821 368h0M843 375h0M864 378h0M828 378h0M857 396h0M795 396h0M777 382h0M908 359h0M914 361h0M917 367h0M815 387h0M813 396h0M811 399h0M811 404h0M813 406h0M816 409h0M825 408h0M830 408h0M833 407h0M832 404h0M828 398h0M821 390h0M822 386h0M817 385h0M816 387h0M820 390h0M815 398h0M824 395h0M826 396h0M815 403h0M820 402h0M826 402h0M830 402h0M811 406h0M818 407h0M822 407h0M828 406h0M773 390h0M774 397h0M774 390h0M775 397h0M775 391h0M774 393h0M776 388h0M777 392h0M773 397h0M775 399h0M1023 294h0M1023 297h0M1023 302h0M1030 301h0M1035 301h0M1042 299h0M1047 300h0M1050 298h0M1057 295h0M1058 294h0M1052 294h0M1049 292h0M1044 292h0M1041 294h0M1037 294h0M1031 292h0M1026 292h0M1028 295h0M1042 295h0M1044 297h0M1053 293h0M1025 298h0M1033 301h0M1037 298h0M1044 299h0M1101 293h0M1102 297h0M1107 304h0M1111 308h0M1122 310h0M1128 313h0M1131 312h0M1136 311h0M1142 309h0M1146 310h0M1151 309h0M1150 304h0M1146 301h0M1143 300h0M1140 295h0M1136 294h0M1132 292h0M1127 294h0M1122 293h0M1119 292h0M1115 294h0M1109 293h0M1105 294h0M1113 294h0M1122 295h0M1134 294h0M1103 297h0M1111 297h0M1115 298h0M1119 298h0M1127 299h0M1132 298h0M1140 299h0M1106 301h0M1111 302h0M1117 305h0M1126 303h0M1131 303h0M1136 302h0M1143 304h0M1147 305h0M1114 307h0M1127 306h0M1131 309h0M1146 307h0M1177 300h0M1181 302h0M1176 302h0M1176 300h0M1182 295h0M1174 297h0M1181 293h0M1181 294h0M1174 296h0M1179 301h0M1182 294h0M1177 295h0M1178 296h0M1182 297h0M1201 292h0M1198 297h0M1256 299h0M1251 301h0M1251 298h0M1226 297h0M1238 302h0M1261 306h0M1236 301h0M1245 296h0M1229 305h0M1263 304h0M1232 294h0M1257 307h0M1255 304h0M1226 294h0M1241 308h0M1220 301h0M1242 296h0M1223 305h0M1222 296h0M1244 301h0M1264 298h0M1231 311h0M1220 296h0M1238 299h0M1230 304h0M1264 301h0M1259 301h0M1225 300h0M1230 306h0M1260 308h0M1224 309h0M1258 302h0M1252 311h0M1261 305h0M1246 300h0M1237 295h0M1236 297h0M1264 299h0M1242 302h0M1254 310h0M1229 310h0M1262 311h0M1222 296h0M1217 295h0M1238 300h0M1252 311h0M1229 301h0M1253 299h0M1258 312h0M1225 302h0M1234 311h0M1252 312h0M1256 309h0M1233 306h0M1219 300h0M1262 312h0M1222 302h0M1234 305h0M1245 298h0M1260 302h0M1024 359h0M1023 363h0M1022 367h0M1024 371h0M1024 375h0M1023 379h0M1028 379h0M1029 375h0M1035 365h0M1039 360h0M1045 359h0M1050 358h0M1054 363h0M1059 365h0M1064 371h0M1073 371h0M1087 367h0M1091 369h0M1097 373h0M1102 379h0M1106 382h0M1107 386h0M1112 391h0M1115 395h0M1119 398h0M1123 403h0M1125 408h0M1127 411h0M1130 413h0M1135 413h0M1140 414h0M1143 412h0M1149 412h0M1151 412h0M1164 412h0M1170 412h0M1166 405h0M1161 404h0M1156 400h0M1155 395h0M1153 390h0M1153 386h0M1148 381h0M1146 381h0M1140 382h0M1134 372h0M1138 365h0M1133 360h0M1128 357h0M1123 353h0M1125 347h0M1121 341h0M1121 340h0M1118 346h0M1117 347h0M1113 356h0M1113 352h0M1112 348h0M1107 339h0M1105 335h0M1102 335h0M1098 335h0M1093 333h0M1087 331h0M1083 330h0M1075 327h0M1065 324h0M1062 324h0M1055 324h0M1048 326h0M1045 330h0M1058 328h0M1063 330h0M1068 333h0M1071 336h0M1073 339h0M1071 343h0M1066 348h0M1065 354h0M1057 358h0M1054 356h0M1049 352h0M1046 350h0M1044 345h0M1040 345h0M1038 343h0M1035 346h0M1040 351h0M1036 355h0M1034 357h0M1028 359h0M1054 327h0M1060 328h0M1064 327h0M1070 329h0M1072 333h0M1078 333h0M1084 332h0M1091 333h0M1074 338h0M1083 339h0M1086 337h0M1092 337h0M1098 336h0M1102 339h0M1075 342h0M1078 343h0M1082 342h0M1092 345h0M1094 341h0M1102 343h0M1043 345h0M1045 346h0M1069 347h0M1075 348h0M1081 346h0M1087 350h0M1095 348h0M1101 347h0M1105 348h0M1109 348h0M1122 346h0M1043 351h0M1049 352h0M1067 354h0M1071 351h0M1076 354h0M1086 352h0M1092 353h0M1098 354h0M1101 351h0M1107 355h0M1117 352h0M1033 359h0M1041 356h0M1046 357h0M1053 358h0M1058 358h0M1064 359h0M1071 359h0M1074 357h0M1080 359h0M1086 359h0M1092 356h0M1100 356h0M1104 357h0M1111 358h0M1117 359h0M1124 358h0M1128 357h0M1027 365h0M1033 361h0M1056 360h0M1063 363h0M1067 364h0M1073 364h0M1077 362h0M1086 363h0M1092 363h0M1094 364h0M1100 361h0M1107 362h0M1112 362h0M1118 362h0M1125 361h0M1025 369h0M1027 368h0M1065 368h0M1071 366h0M1077 368h0M1084 366h0M1092 369h0M1100 366h0M1106 367h0M1109 367h0M1117 368h0M1121 368h0M1129 366h0M1135 368h0M1026 371h0M1098 371h0M1102 373h0M1107 371h0M1114 371h0M1118 372h0M1128 372h0M1133 373h0M1024 376h0M1103 376h0M1111 378h0M1118 376h0M1120 376h0M1128 380h0M1135 375h0M1105 381h0M1114 382h0M1119 384h0M1125 384h0M1132 381h0M1135 385h0M1144 382h0M1109 390h0M1115 385h0M1121 387h0M1128 386h0M1135 389h0M1140 390h0M1143 388h0M1115 392h0M1121 395h0M1124 391h0M1131 390h0M1135 391h0M1142 392h0M1147 393h0M1120 397h0M1128 396h0M1133 398h0M1140 397h0M1143 398h0M1149 395h0M1125 401h0M1130 401h0M1137 401h0M1144 401h0M1148 404h0M1156 402h0M1162 404h0M1126 406h0M1132 409h0M1140 407h0M1146 406h0M1150 410h0M1155 406h0M1162 407h0M1166 409h0M1176 373h0M1177 379h0M1179 384h0M1182 388h0M1184 390h0M1187 395h0M1190 397h0M1186 400h0M1182 405h0M1179 409h0M1180 409h0M1185 405h0M1190 405h0M1192 402h0M1197 399h0M1201 395h0M1204 391h0M1206 386h0M1210 383h0M1214 381h0M1216 376h0M1222 374h0M1226 368h0M1229 365h0M1233 363h0M1237 360h0M1243 359h0M1242 362h0M1243 367h0M1244 372h0M1243 377h0M1243 380h0M1245 384h0M1247 386h0M1250 391h0M1251 397h0M1254 401h0M1255 408h0M1256 413h0M1261 413h0M1267 412h0M1266 405h0M1268 401h0M1268 398h0M1268 392h0M1265 387h0M1267 386h0M1265 379h0M1268 376h0M1265 374h0M1266 368h0M1267 365h0M1268 360h0M1268 357h0M1268 352h0M1267 349h0M1267 344h0M1267 341h0M1267 335h0M1266 331h0M1267 329h0M1268 324h0M1267 320h0M1262 319h0M1259 320h0M1256 319h0M1250 320h0M1246 319h0M1244 318h0M1238 319h0M1235 319h0M1229 320h0M1224 319h0M1228 326h0M1231 331h0M1226 340h0M1223 344h0M1216 345h0M1212 346h0M1208 350h0M1204 352h0M1205 356h0M1204 360h0M1203 365h0M1197 367h0M1193 371h0M1180 373h0M1230 323h0M1234 324h0M1239 325h0M1244 323h0M1252 324h0M1256 321h0M1264 322h0M1234 326h0M1240 328h0M1245 327h0M1249 329h0M1256 329h0M1259 330h0M1265 330h0M1233 333h0M1242 333h0M1246 335h0M1251 335h0M1256 334h0M1262 332h0M1229 339h0M1238 337h0M1241 337h0M1247 339h0M1253 340h0M1258 337h0M1267 338h0M1220 345h0M1230 342h0M1233 343h0M1240 342h0M1245 344h0M1250 342h0M1258 344h0M1261 343h0M1213 348h0M1221 350h0M1225 350h0M1232 349h0M1236 348h0M1242 349h0M1251 348h0M1255 349h0M1261 351h0M1211 354h0M1215 354h0M1223 352h0M1228 352h0M1235 351h0M1242 353h0M1248 351h0M1253 355h0M1257 353h0M1264 352h0M1208 357h0M1215 358h0M1219 357h0M1224 357h0M1233 358h0M1237 358h0M1245 359h0M1247 359h0M1252 361h0M1261 357h0M1266 360h0M1206 362h0M1213 365h0M1216 364h0M1224 363h0M1231 361h0M1234 362h0M1245 364h0M1252 364h0M1258 364h0M1264 363h0M1200 370h0M1207 367h0M1214 367h0M1220 368h0M1224 369h0M1244 369h0M1247 368h0M1254 366h0M1259 370h0M1264 369h0M1181 373h0M1187 376h0M1193 372h0M1200 372h0M1206 375h0M1213 374h0M1218 375h0M1245 375h0M1253 374h0M1257 372h0M1262 374h0M1178 377h0M1187 377h0M1189 379h0M1195 378h0M1201 380h0M1209 378h0M1214 376h0M1245 377h0M1251 381h0M1255 380h0M1259 378h0M1265 378h0M1182 382h0M1188 383h0M1194 384h0M1200 384h0M1206 383h0M1245 382h0M1254 384h0M1257 386h0M1265 386h0M1188 387h0M1191 389h0M1198 387h0M1202 390h0M1254 389h0M1261 390h0M1191 392h0M1198 393h0M1257 396h0M1264 392h0M1190 401h0M1198 397h0M1256 401h0M1258 397h0M1266 401h0M1189 403h0M1254 404h0M1256 402h0M1263 401h0M1256 406h0M1262 407h0M1265 410h0M1214 320h0M1207 319h0M1201 318h0M1198 320h0M1195 320h0M1198 328h0M1198 329h0M1202 327h0M1208 322h0M1212 323h0M1200 324h0M1205 324h0M1031 333h0M1034 318h0M1021 318h0M1108 322h0M1116 325h0M1141 324h0M1152 326h0M1179 334h0M1162 369h0M1180 397h0M1053 375h0M1039 387h0M1181 316h0M1191 318h0M1033 322h0M1275 386h0M1279 384h0M1284 386h0M1290 385h0M1293 385h0M1296 393h0M1300 398h0M1294 397h0M1289 398h0M1287 399h0M1282 398h0M1279 394h0M1276 391h0M1275 396h0M1275 399h0M1275 405h0M1273 408h0M1275 412h0M1274 416h0M1274 422h0M1273 425h0M1274 429h0M1275 435h0M1276 438h0M1274 443h0M1280 441h0M1282 444h0M1288 441h0M1292 442h0M1297 443h0M1299 443h0M1305 443h0M1312 442h0M1317 441h0M1320 442h0M1319 438h0M1319 433h0M1317 430h0M1318 425h0M1319 418h0M1325 419h0M1326 419h0M1325 412h0M1330 400h0M1332 399h0M1336 393h0M1340 395h0M1347 400h0M1351 402h0M1357 405h0M1359 402h0M1353 397h0M1352 393h0M1347 387h0M1345 385h0M1341 381h0M1335 376h0M1339 370h0M1332 366h0M1327 365h0M1322 364h0M1321 364h0M1317 366h0M1312 367h0M1304 360h0M1304 358h0M1299 356h0M1294 355h0M1293 350h0M1293 347h0M1291 337h0M1289 336h0M1287 345h0M1279 345h0M1278 348h0M1275 352h0M1274 358h0M1275 366h0M1275 369h0M1273 375h0M1276 380h0M1302 405h0M1303 411h0M1302 414h0M1300 418h0M1297 421h0M1291 418h0M1292 414h0M1290 409h0M1289 403h0M1294 404h0M1299 405h0M1282 380h0M1281 375h0M1278 369h0M1277 363h0M1284 363h0M1289 363h0M1291 374h0M1293 379h0M1289 380h0M1289 344h0M1280 349h0M1286 349h0M1290 348h0M1276 354h0M1286 352h0M1289 353h0M1295 355h0M1275 358h0M1281 361h0M1288 361h0M1292 358h0M1298 361h0M1276 364h0M1283 362h0M1296 363h0M1303 365h0M1309 365h0M1321 366h0M1276 369h0M1295 370h0M1298 371h0M1306 369h0M1312 368h0M1317 371h0M1321 370h0M1329 371h0M1332 369h0M1280 374h0M1295 376h0M1303 375h0M1307 375h0M1311 375h0M1319 375h0M1325 374h0M1330 374h0M1335 373h0M1280 381h0M1289 381h0M1294 380h0M1300 380h0M1304 378h0M1310 381h0M1318 381h0M1321 380h0M1329 380h0M1335 381h0M1339 381h0M1278 383h0M1303 383h0M1305 386h0M1312 384h0M1321 383h0M1325 382h0M1332 386h0M1336 386h0M1340 386h0M1299 388h0M1303 389h0M1310 388h0M1316 389h0M1321 389h0M1325 391h0M1332 390h0M1341 389h0M1344 390h0M1278 395h0M1300 395h0M1308 393h0M1314 395h0M1320 392h0M1324 393h0M1331 395h0M1344 394h0M1346 396h0M1277 399h0M1281 398h0M1292 399h0M1299 401h0M1304 401h0M1308 400h0M1315 398h0M1321 399h0M1327 399h0M1345 397h0M1352 401h0M1281 405h0M1282 404h0M1289 404h0M1296 403h0M1308 404h0M1315 407h0M1321 404h0M1325 405h0M1281 409h0M1286 408h0M1306 410h0M1310 409h0M1317 409h0M1324 411h0M1327 409h0M1278 415h0M1285 416h0M1290 416h0M1303 412h0M1307 413h0M1313 413h0M1320 413h0M1326 416h0M1277 419h0M1280 419h0M1286 422h0M1290 418h0M1304 418h0M1310 421h0M1316 419h0M1322 418h0M1325 419h0M1279 425h0M1283 426h0M1290 423h0M1296 424h0M1299 422h0M1307 425h0M1312 425h0M1275 431h0M1279 428h0M1286 430h0M1292 429h0M1300 432h0M1306 428h0M1309 428h0M1278 436h0M1285 434h0M1292 434h0M1295 433h0M1300 434h0M1310 436h0M1313 434h0M1276 440h0M1282 441h0M1289 441h0M1294 438h0M1300 439h0M1306 440h0M1311 438h0M1315 438h0M1320 441h0M1361 378h0M1361 384h0M1363 384h0M1360 386h0M1366 398h0M1391 429h0M1332 428h0M1331 433h0M1333 438h0M1361 423h0M1362 429h0M1361 431h0M1361 436h0M1365 443h0M1368 444h0M1371 443h0M1377 443h0M1379 442h0M1393 442h0M1396 444h0M1400 442h0M1406 441h0M1408 443h0M1406 441h0M1402 440h0M1398 439h0M1392 433h0M1388 431h0M1384 430h0M1380 430h0M1373 429h0M1370 423h0M1364 422h0M1367 426h0M1366 430h0M1370 427h0M1369 436h0M1372 433h0M1377 436h0M1384 434h0M1366 438h0M1370 441h0M1377 439h0M1381 438h0M1388 439h0M1395 441h0M1401 440h0M1631 375h0M1609 387h0M1613 388h0M1617 397h0M1630 392h0M1658 429h0M1730 435h0M1669 442h0M1755 437h0M1645 380h0M1650 378h0M1648 383h0M1648 383h0M1654 388h0M1653 384h0M1653 390h0M1655 386h0M1654 391h0M1654 388h0M1660 387h0M1655 389h0M1665 393h0M1665 388h0M1667 393h0M1668 392h0M1666 392h0M1669 391h0M1674 397h0M1671 397h0M1672 394h0M1679 395h0M1675 398h0M1678 396h0M1680 400h0M1682 400h0M1683 402h0M1681 401h0M1687 407h0M1683 404h0M1683 402h0M1683 404h0M1686 412h0M1688 408h0M1690 412h0M1688 410h0M1690 417h0M1690 417h0M1686 421h0M1687 418h0M1684 419h0M1685 419h0M1680 420h0M1687 420h0M1683 422h0M1678 425h0M1679 425h0M1681 424h0M1677 426h0M1679 429h0M1676 429h0M1673 431h0M1699 403h0M1698 404h0M1698 404h0M1699 405h0M1702 410h0M1699 411h0M1703 412h0M1703 411h0M1707 415h0M1703 417h0M1708 423h0M1705 420h0M1707 419h0M1707 418h0M1705 424h0M1706 425h0M1707 427h0M1709 427h0M1706 431h0M1710 429h0M1712 413h0M1713 417h0M1715 419h0M1716 424h0M1620 425h0M1624 428h0M1624 427h0M1649 413h0M1648 420h0M1646 422h0M1646 427h0M1742 417h0M1743 415h0M1745 423h0M1742 424h0M1743 425h0M1746 424h0M1743 427h0M1744 425h0M1746 429h0M1743 425h0M1746 428h0M1748 431h0M1751 431h0M1753 434h0M1753 431h0M1757 433h0M1757 435h0M1756 434h0M1760 432h0M1757 435h0M1763 429h0M1761 427h0M1767 430h0M1763 426h0M1641 435h0M1638 442h0M1643 441h0M1640 435h0M1721 435h0M1719 440h0M1719 446h0M1858 441h0M1856 439h0M1856 434h0M1855 426h0M1856 420h0M1858 419h0M1858 413h0M1858 409h0M1864 410h0M1868 409h0M1873 411h0M1879 414h0M1881 419h0M1886 420h0M1887 425h0M1888 431h0M1889 433h0M1887 439h0M1885 442h0M1889 442h0M1897 444h0M1901 441h0M1905 441h0M1910 441h0M1915 443h0M1917 441h0M1923 444h0M1925 442h0M1930 442h0M1936 443h0M1938 442h0M1948 442h0M1952 442h0M1956 442h0M1959 444h0M1962 443h0M1967 443h0M1971 443h0M1976 442h0M1980 441h0M1985 442h0M1987 444h0M1993 442h0M1995 444h0M2001 444h0M2003 442h0M2009 443h0M2012 442h0M2016 444h0M2017 439h0M2017 435h0M2016 425h0M2013 421h0M2009 421h0M2003 422h0M1994 422h0M1984 423h0M1981 423h0M1975 426h0M1972 426h0M1971 421h0M1971 416h0M1969 413h0M1964 412h0M1959 414h0M1953 415h0M1948 416h0M1942 417h0M1939 416h0M1935 412h0M1931 413h0M1922 413h0M1916 413h0M1917 409h0M1914 406h0M1910 401h0M1908 398h0M1904 393h0M1902 398h0M1897 401h0M1895 403h0M1890 403h0M1884 406h0M1879 409h0M1877 404h0M1868 404h0M1862 403h0M1857 407h0M1854 409h0M1846 412h0M1848 415h0M1846 420h0M1844 424h0M1841 429h0M1835 427h0M1831 429h0M1822 429h0M1815 438h0M1811 444h0M1817 444h0M1821 444h0M1825 441h0M1829 442h0M1832 442h0M1838 441h0M1842 441h0M1849 443h0M1854 441h0M1904 405h0M1904 410h0M1905 415h0M1904 419h0M1898 423h0M1895 421h0M1893 419h0M1892 412h0M1889 408h0M1896 407h0M1900 404h0M1868 404h0M1875 403h0M1899 404h0M1903 404h0M1908 402h0M1853 409h0M1860 406h0M1864 409h0M1873 408h0M1877 410h0M1884 409h0M1889 409h0M1894 406h0M1912 408h0M1850 412h0M1855 411h0M1881 412h0M1884 413h0M1891 412h0M1907 414h0M1915 413h0M1928 415h0M1966 413h0M1848 419h0M1854 420h0M1884 416h0M1890 417h0M1905 418h0M1913 420h0M1918 420h0M1925 420h0M1928 418h0M1935 418h0M1939 418h0M1948 418h0M1951 417h0M1960 418h0M1962 417h0M1970 416h0M1844 425h0M1849 423h0M1855 421h0M1886 421h0M1893 424h0M1899 424h0M1901 422h0M1907 425h0M1915 424h0M1921 424h0M1928 421h0M1931 423h0M1938 423h0M1942 422h0M1950 421h0M1957 421h0M1960 425h0M1965 423h0M1971 421h0M1979 425h0M1984 425h0M1989 424h0M2003 422h0M2015 422h0M1843 428h0M1849 426h0M1852 429h0M1893 428h0M1899 428h0M1908 427h0M1911 427h0M1917 427h0M1925 430h0M1927 429h0M1936 429h0M1942 427h0M1948 429h0M1953 428h0M1959 430h0M1962 426h0M1970 426h0M1977 430h0M1983 426h0M1987 426h0M1994 426h0M1997 427h0M2003 430h0M2012 429h0M1827 431h0M1833 433h0M1838 431h0M1844 435h0M1851 434h0M1855 431h0M1892 435h0M1895 432h0M1902 431h0M1907 433h0M1914 432h0M1921 434h0M1928 433h0M1932 433h0M1939 432h0M1945 433h0M1950 434h0M1954 433h0M1960 431h0M1966 435h0M1971 431h0M1979 433h0M1984 431h0M1990 433h0M1996 433h0M2001 435h0M2005 431h0M2012 431h0M1823 437h0M1832 436h0M1835 438h0M1840 437h0M1848 439h0M1854 439h0M1895 438h0M1901 440h0M1906 440h0M1909 439h0M1917 438h0M1921 438h0M1930 439h0M1936 439h0M1938 438h0M1947 439h0M1952 438h0M1957 437h0M1963 438h0M1969 436h0M1973 439h0M1981 438h0M1987 437h0M1995 437h0M1998 437h0M2004 437h0M2009 436h0M2015 438h0M1827 412h0M1827 412h0M1835 411h0M1835 409h0M2041 388h0M2094 393h0M2112 388h0M2120 386h0M2143 364h0M2145 367h0M2152 368h0M2150 369h0M2151 371h0M2155 378h0M2161 380h0M2161 381h0M2165 379h0M2184 383h0M2183 384h0M2184 387h0M2188 385h0M2188 382h0M2186 379h0M2184 381h0M2184 383h0M2115 399h0M2115 404h0M2118 408h0M2160 403h0M2160 407h0M2162 411h0M2160 413h0M2185 407h0M2189 410h0M2190 412h0M2190 405h0M2187 407h0M2199 420h0M2197 423h0M2195 428h0M2193 430h0M2189 432h0M2233 415h0M2231 422h0M2228 425h0M2222 427h0M2223 432h0M2228 434h0M2233 431h0M2236 427h0M2237 420h0M2239 415h0M2237 413h0M2238 407h0M2240 407h0M2233 412h0M2232 418h0M2236 417h0M2236 418h0M2227 426h0M2231 427h0M2228 433h0M2022 441h0M2027 441h0M2032 443h0M2034 444h0M2040 443h0M2043 443h0M2051 441h0M2056 442h0M2060 443h0M2063 442h0M2073 441h0M2075 443h0M2075 438h0M2077 432h0M2084 431h0M2090 429h0M2095 429h0M2096 437h0M2094 442h0M2099 443h0M2105 444h0M2108 442h0M2112 439h0M2113 435h0M2108 431h0M2107 429h0M2105 423h0M2102 419h0M2101 416h0M2105 409h0M2105 409h0M2104 409h0M2095 407h0M2083 401h0M2080 399h0M2077 403h0M2073 404h0M2069 404h0M2060 412h0M2057 414h0M2056 419h0M2049 421h0M2047 423h0M2041 426h0M2037 425h0M2033 425h0M2031 424h0M2023 424h0M2024 427h0M2023 433h0M2022 437h0M2080 400h0M2069 404h0M2074 407h0M2076 403h0M2084 403h0M2063 409h0M2071 411h0M2075 408h0M2084 407h0M2087 409h0M2094 407h0M2100 407h0M2103 409h0M2062 416h0M2067 414h0M2074 416h0M2081 414h0M2084 414h0M2091 415h0M2098 415h0M2101 416h0M2052 420h0M2056 419h0M2065 420h0M2070 418h0M2075 421h0M2081 418h0M2087 418h0M2093 421h0M2099 417h0M2024 427h0M2039 427h0M2048 424h0M2055 422h0M2063 426h0M2066 425h0M2073 426h0M2078 427h0M2086 425h0M2091 425h0M2094 426h0M2102 423h0M2032 427h0M2035 432h0M2042 430h0M2047 427h0M2054 429h0M2057 432h0M2063 429h0M2071 430h0M2076 431h0M2081 430h0M2095 428h0M2101 429h0M2104 428h0M2026 435h0M2034 435h0M2040 437h0M2045 433h0M2047 435h0M2055 437h0M2059 437h0M2066 435h0M2074 434h0M2096 435h0M2100 435h0M2106 433h0M2031 440h0M2037 438h0M2043 439h0M2049 440h0M2052 439h0M2057 440h0M2063 441h0M2069 439h0M2076 439h0M2100 440h0M2106 439h0M2111 438h0M2146 440h0M2146 442h0M2151 442h0M2155 443h0M2158 443h0M2164 444h0M2164 439h0M2157 436h0M2149 436h0M2149 439h0M2158 441h0M2160 441h0M1298 497h0M1298 503h0M1303 507h0M1305 507h0M1309 512h0M1309 517h0M1306 524h0M1313 524h0M1319 525h0M1320 529h0M1319 533h0M1320 538h0M1323 537h0M1328 536h0M1331 536h0M1336 537h0M1340 536h0M1345 536h0M1347 536h0M1352 536h0M1356 538h0M1358 536h0M1363 538h0M1366 537h0M1372 538h0M1374 537h0M1374 535h0M1371 530h0M1368 528h0M1364 525h0M1360 522h0M1358 518h0M1356 512h0M1353 507h0M1350 503h0M1351 506h0M1345 507h0M1342 504h0M1341 502h0M1341 495h0M1338 491h0M1344 491h0M1349 489h0M1349 489h0M1347 484h0M1348 480h0M1346 475h0M1346 470h0M1340 470h0M1337 468h0M1331 465h0M1332 461h0M1335 456h0M1331 452h0M1326 449h0M1323 443h0M1320 444h0M1316 442h0M1312 442h0M1302 442h0M1300 443h0M1295 442h0M1292 443h0M1287 443h0M1284 442h0M1278 444h0M1273 443h0M1276 452h0M1275 456h0M1275 462h0M1279 467h0M1280 471h0M1281 473h0M1285 477h0M1288 481h0M1289 483h0M1291 488h0M1294 494h0M1319 473h0M1320 469h0M1318 464h0M1318 459h0M1322 459h0M1326 459h0M1331 459h0M1330 467h0M1330 473h0M1335 471h0M1337 473h0M1344 470h0M1345 478h0M1346 483h0M1348 487h0M1343 487h0M1337 486h0M1332 485h0M1333 482h0M1331 477h0M1329 473h0M1326 476h0M1296 457h0M1304 457h0M1310 459h0M1314 466h0M1314 474h0M1310 476h0M1305 476h0M1301 475h0M1301 471h0M1300 465h0M1299 460h0M1294 456h0M1295 463h0M1297 465h0M1297 471h0M1297 476h0M1291 475h0M1287 477h0M1287 472h0M1283 467h0M1285 462h0M1283 457h0M1288 459h0M1276 450h0M1283 448h0M1287 448h0M1291 450h0M1298 448h0M1306 449h0M1308 449h0M1314 449h0M1321 450h0M1278 452h0M1282 454h0M1290 455h0M1295 453h0M1302 456h0M1307 455h0M1311 454h0M1321 452h0M1326 453h0M1329 454h0M1276 457h0M1283 459h0M1287 457h0M1295 458h0M1297 460h0M1304 457h0M1317 461h0M1322 458h0M1329 457h0M1333 460h0M1278 462h0M1296 462h0M1283 471h0M1297 468h0M1315 468h0M1331 468h0M1341 471h0M1295 476h0M1316 473h0M1330 475h0M1345 474h0M1294 481h0M1301 478h0M1307 477h0M1311 477h0M1314 478h0M1323 480h0M1326 478h0M1295 482h0M1303 484h0M1307 485h0M1311 486h0M1319 484h0M1323 484h0M1332 482h0M1296 489h0M1305 490h0M1308 488h0M1316 490h0M1323 489h0M1325 487h0M1333 491h0M1337 490h0M1346 487h0M1295 492h0M1303 495h0M1308 492h0M1313 492h0M1320 492h0M1322 494h0M1330 494h0M1337 494h0M1306 498h0M1311 500h0M1314 501h0M1323 497h0M1326 500h0M1333 497h0M1337 501h0M1307 506h0M1314 503h0M1321 506h0M1326 505h0M1330 502h0M1334 503h0M1342 506h0M1312 507h0M1314 510h0M1321 509h0M1328 509h0M1332 511h0M1338 509h0M1345 507h0M1351 509h0M1315 513h0M1319 514h0M1325 513h0M1329 513h0M1338 514h0M1344 512h0M1347 516h0M1352 514h0M1314 518h0M1321 517h0M1329 519h0M1332 520h0M1338 518h0M1344 519h0M1349 518h0M1356 521h0M1309 522h0M1312 524h0M1318 523h0M1325 526h0M1332 523h0M1338 526h0M1340 523h0M1350 522h0M1353 526h0M1361 523h0M1323 530h0M1327 531h0M1331 527h0M1337 527h0M1346 530h0M1349 531h0M1357 529h0M1361 529h0M1325 536h0M1331 533h0M1337 535h0M1342 535h0M1347 532h0M1354 532h0M1359 536h0M1367 535h0M1370 532h0M1364 455h0M1366 459h0M1369 466h0M1375 472h0M1379 483h0M1382 487h0M1389 502h0M1391 506h0M1393 510h0M1400 513h0M1405 513h0M1408 518h0M1409 520h0M1413 524h0M1416 528h0M1421 533h0M1424 533h0M1431 532h0M1433 531h0M1432 528h0M1432 523h0M1434 520h0M1440 514h0M1442 511h0M1437 512h0M1433 508h0M1434 501h0M1435 490h0M1430 489h0M1425 489h0M1419 486h0M1414 485h0M1410 484h0M1402 480h0M1404 476h0M1407 471h0M1413 470h0M1423 471h0M1428 475h0M1427 477h0M1425 471h0M1422 468h0M1422 463h0M1418 457h0M1417 453h0M1417 449h0M1415 442h0M1406 443h0M1401 444h0M1397 444h0M1401 446h0M1402 452h0M1407 455h0M1408 460h0M1409 462h0M1405 465h0M1398 470h0M1394 470h0M1389 469h0M1387 467h0M1382 463h0M1378 459h0M1377 453h0M1377 448h0M1377 443h0M1379 442h0M1375 442h0M1368 442h0M1365 447h0M1365 446h0M1371 450h0M1406 447h0M1411 447h0M1366 453h0M1371 453h0M1377 453h0M1410 454h0M1414 450h0M1369 459h0M1374 457h0M1411 456h0M1416 459h0M1371 464h0M1379 461h0M1415 462h0M1417 460h0M1371 467h0M1378 465h0M1380 466h0M1391 470h0M1406 467h0M1412 468h0M1417 468h0M1377 473h0M1386 471h0M1392 472h0M1396 473h0M1404 474h0M1380 476h0M1389 476h0M1394 478h0M1397 479h0M1382 483h0M1389 483h0M1395 482h0M1402 484h0M1406 482h0M1384 487h0M1388 487h0M1394 490h0M1400 487h0M1406 488h0M1412 487h0M1415 489h0M1391 492h0M1397 494h0M1401 490h0M1409 491h0M1412 492h0M1420 492h0M1424 491h0M1432 494h0M1388 496h0M1391 499h0M1400 499h0M1405 498h0M1408 498h0M1415 499h0M1420 496h0M1427 498h0M1433 497h0M1398 504h0M1402 501h0M1406 503h0M1412 503h0M1418 502h0M1426 503h0M1430 503h0M1401 508h0M1404 510h0M1410 507h0M1416 507h0M1424 507h0M1426 507h0M1396 510h0M1404 510h0M1410 511h0M1412 513h0M1420 513h0M1425 512h0M1431 514h0M1437 514h0M1409 517h0M1418 517h0M1421 519h0M1427 518h0M1435 516h0M1412 521h0M1417 520h0M1424 523h0M1432 521h0M1421 526h0M1427 529h0M1450 537h0M1454 537h0M1457 536h0M1463 537h0M1470 538h0M1474 535h0M1483 537h0M1492 536h0M1496 536h0M1499 537h0M1505 536h0M1515 536h0M1517 531h0M1510 534h0M1506 530h0M1506 524h0M1505 523h0M1502 516h0M1502 514h0M1509 517h0M1513 517h0M1518 518h0M1517 512h0M1517 507h0M1511 499h0M1503 503h0M1500 507h0M1496 512h0M1490 507h0M1486 506h0M1483 505h0M1479 500h0M1476 500h0M1469 512h0M1468 516h0M1464 518h0M1460 523h0M1456 522h0M1455 528h0M1451 532h0M1491 524h0M1486 528h0M1482 527h0M1478 528h0M1476 525h0M1473 521h0M1472 518h0M1471 514h0M1474 515h0M1479 514h0M1481 513h0M1486 510h0M1488 514h0M1489 522h0M1475 502h0M1477 501h0M1502 504h0M1508 500h0M1513 500h0M1475 507h0M1482 509h0M1489 509h0M1500 507h0M1505 506h0M1509 507h0M1515 505h0M1471 511h0M1490 511h0M1496 512h0M1501 512h0M1509 514h0M1513 512h0M1469 517h0M1493 515h0M1499 516h0M1512 515h0M1462 523h0M1468 524h0M1470 521h0M1492 522h0M1497 523h0M1502 523h0M1457 527h0M1465 527h0M1470 527h0M1485 528h0M1492 525h0M1500 528h0M1506 528h0M1454 534h0M1460 532h0M1469 533h0M1473 531h0M1480 531h0M1486 531h0M1489 532h0M1497 533h0M1502 530h0M1506 531h0M1316 545h0M1318 554h0M1320 558h0M1320 564h0M1325 563h0M1330 562h0M1332 562h0M1337 562h0M1341 562h0M1347 561h0M1355 563h0M1357 562h0M1362 563h0M1368 561h0M1370 563h0M1375 564h0M1380 563h0M1384 564h0M1388 563h0M1391 562h0M1388 559h0M1387 555h0M1385 548h0M1394 548h0M1405 548h0M1410 553h0M1412 555h0M1414 560h0M1419 562h0M1419 562h0M1425 561h0M1427 561h0M1431 563h0M1435 563h0M1441 563h0M1445 562h0M1453 561h0M1456 562h0M1460 562h0M1469 564h0M1472 562h0M1477 561h0M1482 562h0M1486 561h0M1488 562h0M1492 562h0M1497 561h0M1500 561h0M1506 563h0M1508 561h0M1518 561h0M1515 557h0M1517 555h0M1516 551h0M1516 547h0M1515 543h0M1513 541h0M1509 541h0M1504 541h0M1502 543h0M1497 542h0M1493 541h0M1489 543h0M1485 542h0M1479 542h0M1477 541h0M1473 543h0M1467 541h0M1465 541h0M1459 543h0M1451 543h0M1447 543h0M1442 541h0M1439 542h0M1437 542h0M1432 543h0M1427 541h0M1422 541h0M1420 541h0M1416 543h0M1412 542h0M1406 543h0M1402 543h0M1399 541h0M1390 542h0M1386 543h0M1384 540h0M1379 541h0M1373 542h0M1370 541h0M1365 542h0M1364 542h0M1358 542h0M1354 541h0M1349 543h0M1346 542h0M1342 542h0M1329 543h0M1327 543h0M1317 541h0M1329 543h0M1339 543h0M1376 543h0M1382 543h0M1386 542h0M1391 544h0M1398 542h0M1405 543h0M1414 542h0M1437 543h0M1445 544h0M1449 542h0M1456 543h0M1461 542h0M1472 543h0M1478 543h0M1487 544h0M1501 542h0M1507 542h0M1513 543h0M1322 549h0M1325 546h0M1331 545h0M1338 545h0M1345 545h0M1348 545h0M1356 547h0M1360 547h0M1367 549h0M1371 547h0M1377 545h0M1394 545h0M1409 548h0M1412 549h0M1420 545h0M1427 546h0M1432 545h0M1438 546h0M1444 547h0M1446 546h0M1453 549h0M1460 545h0M1465 549h0M1472 547h0M1476 549h0M1481 546h0M1488 547h0M1496 548h0M1500 548h0M1507 546h0M1510 549h0M1323 551h0M1327 553h0M1333 550h0M1340 551h0M1348 551h0M1350 554h0M1358 551h0M1365 552h0M1369 552h0M1376 550h0M1383 552h0M1408 550h0M1414 554h0M1422 552h0M1429 554h0M1435 551h0M1441 554h0M1444 550h0M1452 551h0M1454 552h0M1464 550h0M1468 553h0M1474 554h0M1481 550h0M1484 553h0M1490 552h0M1498 550h0M1502 554h0M1511 552h0M1512 550h0M1320 558h0M1325 557h0M1333 556h0M1337 557h0M1341 555h0M1350 557h0M1356 556h0M1359 558h0M1367 557h0M1374 558h0M1377 556h0M1385 557h0M1418 556h0M1422 557h0M1427 558h0M1437 556h0M1442 556h0M1449 558h0M1455 556h0M1456 558h0M1466 559h0M1472 555h0M1476 559h0M1482 559h0M1487 555h0M1494 558h0M1500 558h0M1507 559h0M1512 556h0M1517 555h0M1324 560h0M1328 561h0M1358 561h0M1370 561h0M1377 562h0M1378 561h0M1387 561h0M1429 562h0M1433 561h0M1437 562h0M1442 562h0M1450 560h0M1456 561h0M1470 561h0M1481 561h0M1484 560h0M1493 562h0M1504 561h0M1509 561h0M1274 485h0M1280 506h0M1273 525h0M1364 485h0M1451 482h0M1447 491h0M1442 512h0M1449 520h0M1441 525h0M1459 508h0M1490 458h0M1281 551h0M1304 551h0M1403 459h0M1356 466h0M1358 471h0M1359 475h0M1497 460h0M1500 460h0M1504 461h0M1510 466h0M1509 465h0M1515 485h0M1517 490h0M1517 494h0M1520 496h0M1518 489h0M1520 484h0M1516 486h0M1306 529h0M1308 529h0M1313 530h0M1307 530h0M1524 485h0M1522 484h0M1525 482h0M1524 490h0M1524 494h0M1522 499h0M1522 503h0M1523 511h0M1523 516h0M1528 517h0M1532 516h0M1539 518h0M1542 519h0M1541 518h0M1545 511h0M1541 507h0M1540 502h0M1538 494h0M1532 494h0M1528 492h0M1524 496h0M1530 493h0M1527 500h0M1533 498h0M1536 499h0M1525 503h0M1531 502h0M1537 502h0M1528 511h0M1533 507h0M1537 510h0M1529 513h0M1534 512h0M1552 477h0M1552 481h0M1552 487h0M1551 491h0M1552 498h0M1559 499h0M1561 497h0M1567 489h0M1567 485h0M1566 479h0M1565 477h0M1562 474h0M1556 474h0M1560 478h0M1562 477h0M1557 482h0M1558 485h0M1557 486h0M1564 489h0M1553 493h0M1560 494h0M1553 497h0M1558 500h0M1555 459h0M1568 536h0M1706 521h0M1679 466h0M1669 456h0M1669 444h0M1637 501h0M1662 506h0M1613 488h0M1614 490h0M1618 489h0M1614 490h0M1613 496h0M1614 493h0M1611 500h0M1617 500h0M1614 495h0M1617 500h0M1613 499h0M1614 496h0M1607 501h0M1614 505h0M1606 505h0M1614 500h0M1606 509h0M1607 504h0M1605 510h0M1606 506h0M1610 513h0M1610 508h0M1607 521h0M1601 519h0M1603 523h0M1603 518h0M1603 521h0M1605 519h0M1604 526h0M1604 524h0M1605 532h0M1597 527h0M1619 531h0M1618 533h0M1620 533h0M1623 527h0M1623 528h0M1622 469h0M1625 471h0M1625 467h0M1623 470h0M1627 468h0M1630 465h0M1631 467h0M1629 465h0M1633 462h0M1632 462h0M1637 465h0M1631 464h0M1637 463h0M1636 467h0M1642 468h0M1639 469h0M1638 469h0M1638 466h0M1640 473h0M1644 471h0M1649 476h0M1647 473h0M1646 475h0M1650 475h0M1646 474h0M1647 475h0M1650 478h0M1647 477h0M1656 481h0M1654 484h0M1654 485h0M1654 484h0M1653 486h0M1654 484h0M1653 486h0M1651 489h0M1645 456h0M1647 459h0M1640 445h0M1643 446h0M1646 446h0M1648 445h0M1642 443h0M1648 494h0M1648 501h0M1649 504h0M1650 508h0M1649 512h0M1637 520h0M1641 521h0M1662 520h0M1664 522h0M1668 518h0M1669 517h0M1685 508h0M1685 513h0M1681 517h0M1683 520h0M1684 523h0M1682 528h0M1691 512h0M1694 509h0M1701 507h0M1701 505h0M1702 509h0M1707 504h0M1719 470h0M1709 465h0M1710 456h0M1709 458h0M1708 463h0M1708 466h0M1707 467h0M1705 462h0M1710 455h0M1707 454h0M1702 450h0M1714 465h0M1716 464h0M1708 461h0M1720 465h0M1707 451h0M1720 467h0M1716 458h0M1711 470h0M1707 472h0M1712 460h0M1712 474h0M1715 467h0M1708 463h0M1708 459h0M1716 461h0M1708 452h0M1714 462h0M1714 457h0M1722 468h0M1734 446h0M1736 449h0M1738 454h0M1740 456h0M1691 536h0M1695 537h0M1704 538h0M1712 537h0M1725 537h0M1728 536h0M1733 538h0M1738 537h0M1742 536h0M1747 538h0M1751 537h0M1753 538h0M1758 536h0M1761 537h0M1768 537h0M1768 533h0M1766 524h0M1767 521h0M1767 518h0M1766 513h0M1766 510h0M1768 504h0M1766 495h0M1767 492h0M1767 488h0M1765 484h0M1766 481h0M1765 475h0M1766 476h0M1761 476h0M1756 478h0M1749 478h0M1745 480h0M1739 478h0M1735 482h0M1737 483h0M1740 487h0M1743 491h0M1747 491h0M1747 497h0M1745 498h0M1749 505h0M1749 511h0M1748 516h0M1746 519h0M1745 525h0M1741 524h0M1732 529h0M1726 530h0M1717 530h0M1708 531h0M1703 532h0M1700 533h0M1694 534h0M1757 478h0M1763 477h0M1742 480h0M1750 481h0M1751 479h0M1759 483h0M1763 479h0M1746 487h0M1751 487h0M1755 487h0M1762 484h0M1755 491h0M1757 492h0M1765 489h0M1752 497h0M1754 495h0M1761 494h0M1749 500h0M1751 501h0M1758 501h0M1765 503h0M1751 506h0M1756 504h0M1762 505h0M1766 504h0M1754 513h0M1758 513h0M1766 512h0M1750 518h0M1757 515h0M1760 515h0M1751 520h0M1757 521h0M1766 520h0M1736 528h0M1742 528h0M1750 526h0M1755 525h0M1761 526h0M1709 532h0M1714 529h0M1718 532h0M1726 530h0M1731 531h0M1735 531h0M1742 529h0M1748 532h0M1754 530h0M1757 531h0M1714 534h0M1721 535h0M1725 534h0M1737 535h0M1750 536h0M1757 537h0M1522 537h0M1525 542h0M1524 544h0M1522 548h0M1524 554h0M1522 563h0M1529 563h0M1531 563h0M1540 562h0M1543 562h0M1540 558h0M1542 553h0M1542 548h0M1537 547h0M1532 542h0M1531 538h0M1525 540h0M1531 540h0M1528 547h0M1533 544h0M1525 550h0M1528 550h0M1533 553h0M1539 549h0M1526 555h0M1531 557h0M1537 556h0M1528 559h0M1537 559h0M1594 565h0M1599 562h0M1598 559h0M1599 560h0M1606 561h0M1599 563h0M1603 554h0M1606 555h0M1603 554h0M1601 557h0M1611 556h0M1607 558h0M1610 555h0M1614 557h0M1615 550h0M1613 555h0M1617 556h0M1620 551h0M1624 553h0M1618 552h0M1620 555h0M1627 554h0M1627 547h0M1624 550h0M1628 552h0M1632 552h0M1629 551h0M1626 550h0M1628 545h0M1630 547h0M1638 546h0M1637 546h0M1638 549h0M1637 548h0M1642 549h0M1642 545h0M1648 550h0M1643 549h0M1645 550h0M1643 550h0M1672 563h0M1677 561h0M1681 564h0M1685 561h0M1684 557h0M1684 554h0M1682 549h0M1687 547h0M1692 545h0M1696 546h0M1698 552h0M1699 554h0M1700 560h0M1695 561h0M1691 563h0M1697 562h0M1701 561h0M1704 564h0M1709 562h0M1712 563h0M1715 561h0M1722 563h0M1720 558h0M1719 553h0M1720 551h0M1723 549h0M1731 549h0M1734 549h0M1737 554h0M1736 559h0M1741 563h0M1746 564h0M1749 563h0M1754 562h0M1758 564h0M1766 561h0M1767 559h0M1767 552h0M1766 547h0M1766 543h0M1763 544h0M1759 545h0M1755 544h0M1752 543h0M1745 544h0M1744 544h0M1738 544h0M1734 545h0M1730 543h0M1726 544h0M1717 545h0M1714 545h0M1705 545h0M1701 545h0M1697 543h0M1695 543h0M1690 545h0M1685 543h0M1682 544h0M1678 544h0M1674 543h0M1673 551h0M1675 555h0M1674 548h0M1678 549h0M1702 547h0M1708 547h0M1713 548h0M1718 548h0M1725 549h0M1729 545h0M1735 547h0M1741 547h0M1747 545h0M1755 549h0M1761 545h0M1766 549h0M1678 553h0M1683 552h0M1701 553h0M1704 553h0M1711 553h0M1714 554h0M1740 552h0M1744 553h0M1749 552h0M1756 553h0M1762 552h0M1679 558h0M1703 556h0M1708 557h0M1712 557h0M1717 557h0M1737 557h0M1743 557h0M1747 556h0M1753 559h0M1760 557h0M1674 562h0M1681 562h0M1700 560h0M1707 561h0M1709 562h0M1717 562h0M1738 562h0M1744 561h0M1751 562h0M1764 561h0M1773 512h0M1773 518h0M1774 523h0M1774 528h0M1773 530h0M1774 535h0M1777 540h0M1782 540h0M1787 540h0M1793 544h0M1798 543h0M1801 543h0M1809 541h0M1802 540h0M1802 536h0M1802 530h0M1800 527h0M1805 521h0M1807 522h0M1813 519h0M1817 519h0M1818 522h0M1822 532h0M1820 536h0M1823 540h0M1826 540h0M1830 539h0M1836 538h0M1839 539h0M1843 538h0M1846 538h0M1851 537h0M1855 538h0M1865 539h0M1873 541h0M1878 542h0M1883 543h0M1885 543h0M1891 544h0M1894 544h0M1899 545h0M1902 544h0M1911 543h0M1916 545h0M1920 544h0M1925 543h0M1934 543h0M1941 542h0M1944 540h0M1949 540h0M1953 539h0M1958 539h0M1962 540h0M1965 538h0M1977 534h0M1980 533h0M1984 528h0M1986 527h0M1990 522h0M1994 519h0M1995 516h0M2000 510h0M2002 514h0M2008 517h0M2012 519h0M2017 526h0M2016 521h0M2016 516h0M2017 512h0M2016 506h0M2017 501h0M2016 498h0M2017 494h0M2017 487h0M2018 485h0M2017 479h0M2016 476h0M2015 472h0M2016 468h0M2017 464h0M2018 461h0M2016 452h0M2016 447h0M2014 442h0M2007 442h0M2003 443h0M1999 444h0M1996 443h0M1990 442h0M1989 442h0M1982 444h0M1978 444h0M1974 443h0M1970 444h0M1966 444h0M1962 443h0M1957 444h0M1952 442h0M1955 448h0M1958 450h0M1961 455h0M1960 460h0M1958 463h0M1955 467h0M1952 470h0M1944 468h0M1938 458h0M1938 453h0M1940 448h0M1943 445h0M1951 443h0M1945 444h0M1940 443h0M1938 444h0M1932 442h0M1928 442h0M1926 443h0M1921 443h0M1916 444h0M1912 444h0M1909 442h0M1905 443h0M1900 443h0M1895 442h0M1891 444h0M1887 443h0M1883 443h0M1879 443h0M1879 448h0M1877 450h0M1872 452h0M1870 450h0M1865 450h0M1862 451h0M1859 446h0M1860 442h0M1855 444h0M1848 443h0M1845 444h0M1841 443h0M1843 451h0M1838 451h0M1835 453h0M1830 455h0M1829 451h0M1829 449h0M1827 444h0M1820 446h0M1815 445h0M1812 447h0M1807 449h0M1810 454h0M1810 457h0M1810 462h0M1800 468h0M1798 471h0M1802 470h0M1807 466h0M1812 467h0M1815 469h0M1817 470h0M1822 471h0M1821 476h0M1824 484h0M1819 485h0M1805 484h0M1799 484h0M1797 477h0M1792 478h0M1788 480h0M1785 485h0M1783 487h0M1781 491h0M1772 496h0M1777 493h0M1785 493h0M1785 499h0M1787 503h0M1788 509h0M1783 509h0M1779 513h0M1774 516h0M2000 507h0M1997 506h0M1994 503h0M1993 498h0M1992 492h0M1997 492h0M2001 489h0M2009 494h0M2017 501h0M2012 504h0M2008 508h0M1982 460h0M1989 464h0M1991 466h0M1996 469h0M1999 474h0M1999 478h0M1997 482h0M1995 485h0M1992 484h0M1986 486h0M1983 486h0M1978 485h0M1974 484h0M1969 484h0M1967 481h0M1963 475h0M1965 470h0M1965 463h0M1969 462h0M1979 528h0M1971 529h0M1964 528h0M1964 524h0M1964 520h0M1961 514h0M1964 511h0M1968 511h0M1974 512h0M1977 510h0M1978 515h0M1980 521h0M1979 524h0M1919 493h0M1922 490h0M1921 487h0M1924 483h0M1925 477h0M1931 475h0M1934 473h0M1938 469h0M1940 474h0M1943 478h0M1944 481h0M1942 487h0M1940 490h0M1938 493h0M1935 498h0M1931 501h0M1935 505h0M1939 508h0M1946 510h0M1939 516h0M1945 517h0M1949 518h0M1953 518h0M1957 520h0M1959 523h0M1963 528h0M1961 532h0M1957 533h0M1951 537h0M1949 533h0M1942 533h0M1939 529h0M1939 525h0M1939 521h0M1936 517h0M1935 519h0M1932 519h0M1925 519h0M1922 518h0M1918 511h0M1912 507h0M1916 504h0M1921 504h0M1884 464h0M1882 460h0M1882 456h0M1883 450h0M1887 450h0M1892 449h0M1894 448h0M1900 450h0M1902 450h0M1907 453h0M1911 455h0M1918 459h0M1921 464h0M1923 469h0M1914 472h0M1909 473h0M1898 473h0M1894 473h0M1889 468h0M1886 466h0M1900 537h0M1901 531h0M1901 528h0M1898 522h0M1903 521h0M1910 519h0M1914 520h0M1913 524h0M1915 527h0M1917 531h0M1917 534h0M1912 535h0M1908 535h0M1836 491h0M1834 487h0M1832 483h0M1830 481h0M1831 474h0M1836 471h0M1837 467h0M1841 461h0M1851 461h0M1854 461h0M1861 462h0M1864 461h0M1867 463h0M1870 466h0M1874 471h0M1879 476h0M1884 477h0M1890 486h0M1892 490h0M1895 492h0M1898 493h0M1903 494h0M1908 496h0M1906 502h0M1906 508h0M1906 512h0M1902 513h0M1896 511h0M1894 512h0M1891 510h0M1887 505h0M1884 501h0M1888 499h0M1885 503h0M1881 509h0M1878 513h0M1876 518h0M1880 516h0M1884 518h0M1888 528h0M1889 533h0M1886 532h0M1879 533h0M1876 533h0M1876 528h0M1873 525h0M1873 524h0M1870 521h0M1870 518h0M1868 514h0M1867 509h0M1864 502h0M1861 499h0M1861 495h0M1853 495h0M1850 492h0M1844 490h0M1844 444h0M1848 446h0M1853 444h0M1859 445h0M1896 445h0M1902 444h0M1907 446h0M1913 446h0M1920 446h0M1925 445h0M1932 445h0M1936 447h0M1942 446h0M1960 446h0M1967 444h0M1973 446h0M1976 445h0M1984 447h0M1989 443h0M1996 447h0M1999 444h0M2007 447h0M1813 449h0M1817 451h0M1821 450h0M1844 450h0M1852 452h0M1856 451h0M1881 448h0M1900 448h0M1912 449h0M1916 452h0M1920 449h0M1927 451h0M1931 450h0M1939 449h0M1961 449h0M1968 448h0M1974 449h0M1977 449h0M1983 448h0M1990 448h0M1997 449h0M2002 451h0M2006 449h0M2013 449h0M1812 454h0M1822 453h0M1824 455h0M1830 455h0M1835 455h0M1843 457h0M1850 453h0M1853 453h0M1861 454h0M1865 453h0M1871 455h0M1880 454h0M1913 455h0M1919 454h0M1925 453h0M1930 455h0M1935 456h0M1966 456h0M1969 455h0M1976 456h0M1984 453h0M1990 453h0M1991 455h0M1998 454h0M2005 455h0M2010 453h0M1811 458h0M1817 459h0M1825 461h0M1831 457h0M1837 461h0M1838 460h0M1848 459h0M1853 459h0M1860 459h0M1862 461h0M1870 461h0M1876 459h0M1883 460h0M1922 461h0M1927 460h0M1932 460h0M1937 462h0M1961 460h0M1969 458h0M1975 458h0M1978 459h0M1986 462h0M1992 458h0M1997 461h0M2001 460h0M2009 460h0M2014 460h0M1810 464h0M1813 463h0M1819 463h0M1825 467h0M1831 464h0M1838 464h0M1872 463h0M1877 463h0M1886 466h0M1919 463h0M1925 466h0M1929 464h0M1937 465h0M1940 465h0M1964 467h0M1995 464h0M2002 465h0M2004 465h0M2013 464h0M1819 470h0M1823 470h0M1830 468h0M1875 469h0M1881 469h0M1888 468h0M1921 470h0M1927 469h0M1933 468h0M1941 468h0M1953 472h0M1959 469h0M1963 470h0M1999 472h0M2003 471h0M2007 471h0M1828 477h0M1833 473h0M1882 475h0M1891 474h0M1896 474h0M1902 475h0M1913 473h0M1919 473h0M1923 473h0M1946 476h0M1954 474h0M1960 475h0M2000 477h0M2003 475h0M2009 474h0M1788 481h0M1794 481h0M1827 482h0M1887 480h0M1892 481h0M1900 480h0M1904 481h0M1911 481h0M1915 478h0M1921 478h0M1944 478h0M1951 480h0M1955 482h0M1960 478h0M1999 480h0M2003 480h0M2008 481h0M2013 478h0M1787 484h0M1791 485h0M1797 487h0M1802 485h0M1813 486h0M1826 485h0M1889 485h0M1897 486h0M1903 484h0M1908 487h0M1914 483h0M1917 487h0M1948 484h0M1955 483h0M1959 483h0M1968 487h0M1973 485h0M1979 486h0M1995 486h0M1998 485h0M2007 487h0M2013 486h0M1787 488h0M1794 490h0M1801 489h0M1804 488h0M1813 490h0M1818 488h0M1824 491h0M1828 489h0M1834 492h0M1891 489h0M1898 488h0M1905 489h0M1910 488h0M1918 489h0M1921 489h0M1946 489h0M1951 488h0M1956 488h0M1961 492h0M1967 489h0M1975 490h0M1979 489h0M1984 488h0M1991 489h0M1996 489h0M2003 489h0M2007 490h0M2013 488h0M1773 494h0M1787 493h0M1792 497h0M1795 496h0M1804 495h0M1809 494h0M1814 496h0M1822 494h0M1824 495h0M1832 494h0M1836 493h0M1842 496h0M1850 497h0M1853 493h0M1909 493h0M1912 496h0M1919 495h0M1938 494h0M1942 493h0M1948 496h0M1952 496h0M1960 495h0M1965 493h0M1972 496h0M1978 496h0M1981 497h0M1989 497h0M1992 497h0M1787 501h0M1792 500h0M1800 500h0M1808 499h0M1810 500h0M1816 501h0M1824 499h0M1828 499h0M1834 500h0M1838 498h0M1847 502h0M1850 500h0M1857 499h0M1911 498h0M1917 500h0M1922 500h0M1939 500h0M1946 499h0M1951 499h0M1955 498h0M1962 498h0M1967 501h0M1975 502h0M1981 500h0M1983 498h0M1992 502h0M1792 504h0M1795 505h0M1804 506h0M1811 506h0M1814 504h0M1820 507h0M1825 504h0M1834 507h0M1839 507h0M1845 505h0M1850 505h0M1857 504h0M1862 506h0M1884 504h0M1915 503h0M1918 505h0M1943 503h0M1950 504h0M1952 504h0M1958 504h0M1967 503h0M1973 506h0M1976 507h0M1981 505h0M1991 504h0M2012 504h0M1787 512h0M1796 508h0M1798 508h0M1806 511h0M1811 509h0M1816 509h0M1823 508h0M1830 511h0M1834 512h0M1842 510h0M1844 510h0M1851 511h0M1858 511h0M1862 509h0M1883 511h0M1887 509h0M1899 512h0M1909 509h0M1915 509h0M1944 510h0M1952 512h0M1958 508h0M1962 510h0M1969 508h0M1973 511h0M1977 510h0M1985 512h0M1993 511h0M1997 512h0M2009 508h0M2013 511h0M1781 517h0M1786 516h0M1792 517h0M1795 515h0M1802 517h0M1811 514h0M1813 515h0M1819 517h0M1827 516h0M1831 515h0M1838 516h0M1844 515h0M1848 514h0M1856 516h0M1862 517h0M1865 517h0M1881 514h0M1883 517h0M1891 515h0M1896 513h0M1901 515h0M1909 517h0M1915 517h0M1950 514h0M1952 516h0M1959 514h0M1981 516h0M1987 515h0M1995 516h0M2008 516h0M2013 515h0M1777 519h0M1783 521h0M1788 520h0M1793 519h0M1799 519h0M1807 520h0M1809 519h0M1822 522h0M1830 521h0M1836 520h0M1842 521h0M1845 521h0M1854 519h0M1858 522h0M1866 519h0M1870 520h0M1895 518h0M1901 519h0M1903 520h0M1915 520h0M1923 518h0M1930 520h0M1932 521h0M1955 518h0M1983 521h0M1992 519h0M2013 519h0M1774 526h0M1778 524h0M1788 526h0M1791 524h0M1795 524h0M1827 525h0M1833 525h0M1836 524h0M1843 525h0M1851 527h0M1854 527h0M1860 525h0M1867 526h0M1873 526h0M1889 525h0M1895 527h0M1918 525h0M1925 523h0M1931 524h0M1935 526h0M1964 527h0M1984 526h0M1776 531h0M1784 530h0M1788 530h0M1792 532h0M1800 531h0M1823 529h0M1827 530h0M1832 531h0M1842 528h0M1847 530h0M1852 529h0M1856 532h0M1864 528h0M1868 529h0M1891 529h0M1897 532h0M1922 531h0M1925 532h0M1931 531h0M1941 531h0M1963 530h0M1969 531h0M1972 531h0M1775 533h0M1781 537h0M1785 535h0M1791 535h0M1796 536h0M1802 536h0M1821 535h0M1827 534h0M1833 535h0M1838 536h0M1841 535h0M1850 533h0M1854 535h0M1859 536h0M1865 535h0M1872 534h0M1882 536h0M1890 536h0M1897 536h0M1909 536h0M1912 536h0M1917 537h0M1925 533h0M1932 536h0M1936 536h0M1941 537h0M1945 533h0M1954 535h0M1959 534h0M1966 537h0M1970 536h0M1976 535h0M1791 540h0M1800 542h0M1805 541h0M1823 538h0M1830 538h0M1861 538h0M1867 540h0M1876 540h0M1881 539h0M1885 540h0M1894 540h0M1897 542h0M1902 541h0M1909 540h0M1917 539h0M1923 542h0M1929 542h0M1934 538h0M1938 538h0M1944 540h0M1966 538h0M1847 536h0M1874 481h0M1964 444h0M2005 515h0M2009 519h0M2017 540h0M2018 544h0M2018 546h0M2020 538h0M2019 532h0M1774 551h0M1773 558h0M1777 557h0M1779 554h0M1783 556h0M1788 553h0M1793 561h0M1796 563h0M1805 562h0M1809 563h0M1816 562h0M1815 555h0M1811 551h0M1806 550h0M1803 551h0M1799 550h0M1794 549h0M1791 550h0M1787 550h0M1783 551h0M1777 551h0M1774 555h0M1789 554h0M1797 554h0M1803 557h0M1810 554h0M1793 559h0M1798 560h0M1806 560h0M1813 561h0M1967 550h0M1967 556h0M1967 561h0M1976 563h0M1978 557h0M1977 549h0M1971 548h0M1972 551h0M1970 560h0M1974 558h0M1836 564h0M1838 564h0M1842 565h0M1846 565h0M1852 564h0M1852 563h0M1859 566h0M1862 565h0M1948 564h0M1955 561h0M1958 563h0M2024 528h0M2022 537h0M2024 543h0M2024 546h0M2030 548h0M2045 540h0M2047 533h0M2049 528h0M2052 521h0M2054 519h0M2057 518h0M2061 518h0M2068 516h0M2072 518h0M2076 518h0M2076 522h0M2077 529h0M2080 532h0M2082 538h0M2084 541h0M2088 546h0M2092 549h0M2092 553h0M2096 558h0M2102 563h0M2108 561h0M2112 563h0M2122 562h0M2124 564h0M2129 561h0M2132 563h0M2137 562h0M2143 563h0M2147 561h0M2154 561h0M2158 562h0M2160 562h0M2165 561h0M2169 564h0M2178 562h0M2183 561h0M2185 562h0M2189 562h0M2195 563h0M2202 562h0M2206 562h0M2208 563h0M2215 561h0M2217 561h0M2223 562h0M2225 560h0M2229 557h0M2232 555h0M2235 553h0M2240 550h0M2243 550h0M2248 550h0M2254 551h0M2259 550h0M2261 549h0M2262 545h0M2261 541h0M2263 538h0M2262 534h0M2262 529h0M2263 525h0M2261 522h0M2262 518h0M2262 514h0M2264 509h0M2262 505h0M2262 500h0M2260 502h0M2258 497h0M2257 493h0M2258 487h0M2257 482h0M2263 483h0M2262 479h0M2262 472h0M2263 468h0M2261 464h0M2262 459h0M2255 468h0M2250 475h0M2246 481h0M2243 483h0M2241 485h0M2237 488h0M2240 491h0M2244 493h0M2230 502h0M2226 502h0M2223 502h0M2221 496h0M2219 490h0M2218 488h0M2224 486h0M2223 484h0M2224 478h0M2224 472h0M2223 472h0M2218 473h0M2214 474h0M2209 470h0M2205 467h0M2202 467h0M2198 468h0M2195 472h0M2188 476h0M2185 480h0M2182 482h0M2178 484h0M2168 485h0M2166 484h0M2160 487h0M2165 483h0M2167 479h0M2169 475h0M2172 472h0M2168 468h0M2165 462h0M2159 458h0M2156 454h0M2160 453h0M2163 450h0M2168 448h0M2163 447h0M2157 449h0M2151 450h0M2146 450h0M2143 446h0M2140 447h0M2137 443h0M2129 442h0M2127 451h0M2115 452h0M2113 447h0M2111 442h0M2108 442h0M2103 444h0M2096 443h0M2098 448h0M2097 451h0M2092 455h0M2089 457h0M2081 452h0M2077 448h0M2072 442h0M2067 442h0M2064 444h0M2056 442h0M2053 443h0M2048 444h0M2044 442h0M2039 443h0M2034 443h0M2031 442h0M2024 444h0M2022 448h0M2023 452h0M2022 455h0M2023 460h0M2023 462h0M2023 466h0M2024 472h0M2024 479h0M2023 482h0M2023 487h0M2023 491h0M2023 497h0M2024 499h0M2022 505h0M2029 502h0M2033 506h0M2035 510h0M2039 515h0M2037 518h0M2035 523h0M2033 528h0M2172 510h0M2169 509h0M2166 505h0M2164 501h0M2166 497h0M2165 493h0M2170 491h0M2174 489h0M2179 489h0M2182 490h0M2188 487h0M2192 488h0M2196 491h0M2198 491h0M2195 485h0M2194 481h0M2199 478h0M2203 477h0M2207 478h0M2212 481h0M2214 484h0M2217 490h0M2211 499h0M2208 504h0M2206 499h0M2208 506h0M2211 510h0M2209 516h0M2211 520h0M2212 525h0M2206 529h0M2203 533h0M2198 535h0M2195 532h0M2190 534h0M2185 532h0M2184 529h0M2182 527h0M2178 522h0M2176 519h0M2176 515h0M2107 529h0M2108 520h0M2105 512h0M2112 513h0M2117 514h0M2121 518h0M2121 521h0M2120 525h0M2128 530h0M2126 538h0M2127 542h0M2121 543h0M2117 541h0M2114 537h0M2115 532h0M2110 460h0M2113 465h0M2114 468h0M2117 472h0M2113 475h0M2111 477h0M2107 483h0M2103 481h0M2099 483h0M2095 483h0M2094 477h0M2091 471h0M2091 468h0M2089 461h0M2097 463h0M2101 460h0M2105 459h0M2080 529h0M2078 521h0M2083 518h0M2090 521h0M2094 520h0M2094 523h0M2095 530h0M2095 532h0M2093 532h0M2088 533h0M2064 451h0M2066 453h0M2075 459h0M2071 465h0M2071 468h0M2070 474h0M2065 472h0M2061 475h0M2056 474h0M2051 470h0M2047 467h0M2047 460h0M2049 454h0M2053 453h0M2058 452h0M2030 444h0M2034 445h0M2043 447h0M2045 447h0M2054 445h0M2059 446h0M2065 445h0M2071 446h0M2103 447h0M2135 448h0M2139 447h0M2026 453h0M2031 450h0M2038 450h0M2044 449h0M2047 449h0M2054 451h0M2060 450h0M2068 452h0M2074 453h0M2077 450h0M2094 453h0M2101 451h0M2108 449h0M2113 450h0M2125 451h0M2129 453h0M2138 450h0M2144 451h0M2149 451h0M2160 451h0M2025 458h0M2027 455h0M2036 458h0M2040 458h0M2046 456h0M2075 456h0M2094 454h0M2098 455h0M2104 458h0M2112 455h0M2115 455h0M2124 454h0M2129 458h0M2133 457h0M2139 455h0M2144 455h0M2151 454h0M2158 458h0M2026 459h0M2034 460h0M2038 462h0M2045 461h0M2048 460h0M2074 463h0M2079 459h0M2083 461h0M2092 460h0M2115 461h0M2120 460h0M2123 461h0M2132 463h0M2138 463h0M2144 463h0M2148 462h0M2155 459h0M2159 460h0M2024 464h0M2029 467h0M2038 467h0M2042 467h0M2077 466h0M2083 466h0M2087 467h0M2118 465h0M2122 467h0M2130 467h0M2134 467h0M2138 465h0M2144 465h0M2150 467h0M2158 468h0M2162 465h0M2256 465h0M2260 467h0M2027 473h0M2034 471h0M2037 470h0M2046 469h0M2051 471h0M2072 470h0M2080 471h0M2083 472h0M2092 470h0M2115 470h0M2119 473h0M2124 471h0M2132 473h0M2136 469h0M2143 469h0M2147 471h0M2153 472h0M2162 470h0M2167 473h0M2196 470h0M2199 472h0M2206 469h0M2211 472h0M2222 473h0M2253 472h0M2260 469h0M2025 475h0M2028 475h0M2034 477h0M2041 477h0M2045 477h0M2051 476h0M2057 478h0M2066 478h0M2070 477h0M2075 475h0M2083 475h0M2089 475h0M2118 478h0M2121 478h0M2130 477h0M2132 475h0M2142 477h0M2146 477h0M2150 478h0M2157 476h0M2165 478h0M2167 476h0M2191 476h0M2200 474h0M2204 475h0M2207 476h0M2217 478h0M2221 475h0M2252 476h0M2256 478h0M2262 476h0M2027 483h0M2032 483h0M2038 483h0M2046 480h0M2049 483h0M2054 482h0M2060 481h0M2068 479h0M2073 480h0M2080 482h0M2084 482h0M2089 479h0M2108 483h0M2113 479h0M2120 479h0M2124 479h0M2129 482h0M2136 483h0M2142 481h0M2150 482h0M2153 481h0M2159 482h0M2183 483h0M2187 482h0M2194 481h0M2215 481h0M2218 482h0M2223 479h0M2252 479h0M2257 482h0M2031 486h0M2035 488h0M2041 485h0M2046 487h0M2053 486h0M2056 486h0M2064 484h0M2069 485h0M2075 488h0M2079 485h0M2085 488h0M2091 485h0M2100 487h0M2105 488h0M2108 487h0M2116 488h0M2120 487h0M2128 487h0M2132 487h0M2139 488h0M2147 486h0M2151 485h0M2158 487h0M2161 486h0M2166 485h0M2172 489h0M2179 486h0M2184 484h0M2215 485h0M2219 485h0M2244 487h0M2249 485h0M2254 484h0M2028 492h0M2033 489h0M2038 490h0M2044 491h0M2050 490h0M2055 492h0M2063 493h0M2068 492h0M2071 491h0M2079 489h0M2082 493h0M2089 491h0M2097 492h0M2100 492h0M2108 491h0M2115 490h0M2120 493h0M2123 491h0M2130 491h0M2139 492h0M2141 493h0M2150 489h0M2155 491h0M2157 493h0M2171 489h0M2217 491h0M2242 489h0M2246 491h0M2250 490h0M2023 497h0M2031 495h0M2033 498h0M2039 496h0M2045 498h0M2054 495h0M2059 496h0M2062 495h0M2071 495h0M2075 496h0M2081 496h0M2089 495h0M2092 495h0M2097 497h0M2104 496h0M2108 495h0M2117 498h0M2123 496h0M2130 496h0M2135 494h0M2140 498h0M2145 496h0M2151 494h0M2157 496h0M2164 495h0M2214 498h0M2220 496h0M2245 497h0M2250 495h0M2257 494h0M2034 500h0M2036 501h0M2043 499h0M2050 499h0M2055 500h0M2063 501h0M2065 502h0M2071 500h0M2078 500h0M2084 500h0M2089 502h0M2096 500h0M2102 502h0M2108 501h0M2113 501h0M2121 501h0M2126 502h0M2130 500h0M2136 502h0M2142 500h0M2148 502h0M2156 503h0M2158 500h0M2214 502h0M2219 499h0M2241 501h0M2249 503h0M2253 500h0M2257 500h0M2036 508h0M2043 507h0M2048 508h0M2051 506h0M2060 506h0M2065 505h0M2072 508h0M2074 505h0M2082 506h0M2089 508h0M2095 505h0M2098 506h0M2106 504h0M2113 505h0M2115 506h0M2125 505h0M2127 505h0M2135 504h0M2138 508h0M2146 506h0M2153 508h0M2155 508h0M2161 508h0M2169 508h0M2209 505h0M2216 509h0M2223 507h0M2226 506h0M2231 507h0M2240 508h0M2244 505h0M2252 507h0M2256 507h0M2260 508h0M2039 510h0M2042 510h0M2050 510h0M2055 513h0M2061 509h0M2065 513h0M2071 510h0M2077 512h0M2086 513h0M2089 511h0M2098 512h0M2102 509h0M2107 509h0M2112 511h0M2118 511h0M2126 510h0M2131 509h0M2135 510h0M2143 512h0M2150 512h0M2155 513h0M2162 513h0M2166 512h0M2173 512h0M2211 511h0M2218 512h0M2222 511h0M2230 513h0M2235 513h0M2239 513h0M2247 512h0M2253 512h0M2257 511h0M2039 519h0M2045 515h0M2058 516h0M2063 515h0M2071 516h0M2082 517h0M2088 516h0M2095 515h0M2098 518h0M2103 517h0M2121 518h0M2129 514h0M2132 514h0M2139 517h0M2144 518h0M2151 517h0M2158 518h0M2165 518h0M2169 519h0M2174 517h0M2216 518h0M2222 516h0M2228 515h0M2234 515h0M2237 516h0M2244 518h0M2248 515h0M2254 515h0M2261 519h0M2038 520h0M2044 523h0M2051 520h0M2079 520h0M2088 519h0M2094 521h0M2100 520h0M2125 522h0M2131 522h0M2138 519h0M2143 523h0M2150 520h0M2152 521h0M2160 520h0M2164 522h0M2169 521h0M2175 524h0M2220 521h0M2223 523h0M2231 520h0M2234 520h0M2239 520h0M2249 522h0M2253 522h0M2258 519h0M2030 528h0M2036 527h0M2041 527h0M2099 528h0M2106 527h0M2122 524h0M2130 525h0M2135 528h0M2140 528h0M2146 524h0M2151 527h0M2157 528h0M2165 528h0M2170 529h0M2173 524h0M2179 525h0M2214 527h0M2220 528h0M2224 527h0M2231 524h0M2237 526h0M2246 525h0M2249 525h0M2256 527h0M2262 528h0M2026 533h0M2033 531h0M2037 533h0M2043 531h0M2101 530h0M2109 532h0M2115 532h0M2130 532h0M2135 531h0M2143 534h0M2149 530h0M2154 530h0M2159 532h0M2165 533h0M2173 530h0M2178 529h0M2181 533h0M2214 531h0M2219 533h0M2226 530h0M2231 531h0M2237 529h0M2242 530h0M2248 532h0M2254 531h0M2258 530h0M2027 537h0M2034 537h0M2039 536h0M2082 535h0M2086 537h0M2095 534h0M2097 538h0M2104 535h0M2110 535h0M2128 536h0M2133 536h0M2140 536h0M2143 536h0M2149 536h0M2158 538h0M2161 536h0M2168 535h0M2175 538h0M2179 539h0M2187 536h0M2193 535h0M2199 535h0M2202 536h0M2207 536h0M2212 535h0M2222 536h0M2225 537h0M2231 535h0M2236 538h0M2242 538h0M2251 538h0M2253 535h0M2261 538h0M2024 539h0M2030 544h0M2039 543h0M2092 541h0M2096 539h0M2099 543h0M2106 540h0M2112 543h0M2121 543h0M2124 542h0M2131 541h0M2136 542h0M2140 539h0M2147 544h0M2152 543h0M2158 544h0M2166 542h0M2170 543h0M2175 539h0M2184 539h0M2187 542h0M2194 539h0M2199 542h0M2206 541h0M2211 541h0M2220 542h0M2225 544h0M2230 543h0M2236 541h0M2239 541h0M2245 542h0M2251 541h0M2259 540h0M2030 546h0M2093 545h0M2098 547h0M2106 549h0M2113 546h0M2115 547h0M2122 544h0M2129 546h0M2136 545h0M2141 544h0M2146 547h0M2153 546h0M2159 546h0M2165 549h0M2167 548h0M2176 546h0M2179 548h0M2185 545h0M2193 545h0M2197 547h0M2206 548h0M2210 545h0M2217 547h0M2222 546h0M2226 545h0M2234 547h0M2238 549h0M2245 546h0M2252 548h0M2255 547h0M2260 548h0M2096 553h0M2100 552h0M2108 553h0M2111 552h0M2120 552h0M2126 552h0M2128 553h0M2138 550h0M2141 553h0M2147 552h0M2153 551h0M2158 552h0M2167 550h0M2169 553h0M2179 552h0M2181 552h0M2188 551h0M2193 550h0M2198 551h0M2208 551h0M2213 550h0M2217 551h0M2222 552h0M2229 554h0M2235 550h0M2094 555h0M2101 558h0M2104 558h0M2109 556h0M2118 555h0M2123 556h0M2128 555h0M2134 559h0M2140 558h0M2147 554h0M2152 555h0M2159 556h0M2165 555h0M2167 557h0M2173 559h0M2182 555h0M2188 557h0M2194 555h0M2200 559h0M2205 555h0M2208 559h0M2215 557h0M2221 556h0M2227 558h0M2097 561h0M2121 561h0M2125 562h0M2129 560h0M2137 560h0M2143 562h0M2151 562h0M2171 561h0M2176 560h0M2188 560h0M2200 561h0M2208 562h0M2219 561h0M2140 453h0M2223 450h0M2165 446h0M2231 487h0M2199 454h0M2203 453h0M2207 456h0M2201 454h0M2225 472h0M2223 475h0M2224 477h0M1324 564h0M1328 566h0M1337 573h0M1341 574h0M1347 573h0M1351 575h0M1354 574h0M1359 575h0M1364 572h0M1362 565h0M1365 568h0M1371 567h0M1375 567h0M1379 568h0M1384 568h0M1387 577h0M1393 578h0M1398 579h0M1400 593h0M1399 597h0M1395 598h0M1389 600h0M1388 606h0M1389 608h0M1390 614h0M1393 620h0M1395 626h0M1398 628h0M1405 633h0M1410 633h0M1413 630h0M1419 629h0M1422 626h0M1427 626h0M1431 627h0M1438 626h0M1442 627h0M1444 627h0M1453 633h0M1456 637h0M1456 641h0M1457 646h0M1457 651h0M1464 653h0M1470 653h0M1475 647h0M1479 637h0M1483 631h0M1490 626h0M1487 619h0M1486 615h0M1489 612h0M1490 607h0M1492 603h0M1493 599h0M1495 595h0M1498 593h0M1498 587h0M1499 584h0M1503 579h0M1503 575h0M1508 570h0M1509 568h0M1514 570h0M1515 574h0M1517 568h0M1516 562h0M1514 562h0M1509 563h0M1503 563h0M1499 563h0M1486 562h0M1478 562h0M1473 564h0M1469 563h0M1465 570h0M1462 575h0M1461 580h0M1460 582h0M1455 579h0M1452 576h0M1449 571h0M1446 568h0M1446 574h0M1444 579h0M1442 581h0M1438 580h0M1438 576h0M1436 571h0M1434 566h0M1432 565h0M1434 562h0M1430 562h0M1422 562h0M1420 563h0M1414 563h0M1411 564h0M1407 562h0M1402 563h0M1398 562h0M1393 564h0M1389 563h0M1387 562h0M1382 563h0M1379 563h0M1375 565h0M1371 564h0M1366 564h0M1363 563h0M1359 563h0M1354 564h0M1350 562h0M1347 562h0M1343 565h0M1332 564h0M1329 563h0M1468 590h0M1465 586h0M1462 580h0M1466 578h0M1471 576h0M1474 574h0M1477 573h0M1481 572h0M1486 573h0M1484 576h0M1480 577h0M1478 580h0M1477 586h0M1475 590h0M1472 591h0M1466 601h0M1464 604h0M1464 609h0M1464 614h0M1462 619h0M1460 616h0M1453 615h0M1450 615h0M1449 607h0M1449 602h0M1449 596h0M1454 597h0M1459 598h0M1462 599h0M1327 563h0M1343 565h0M1355 565h0M1359 565h0M1366 564h0M1372 565h0M1379 565h0M1384 565h0M1390 563h0M1395 565h0M1401 564h0M1419 566h0M1423 564h0M1471 565h0M1474 565h0M1480 564h0M1489 564h0M1501 565h0M1506 565h0M1510 564h0M1337 568h0M1340 568h0M1345 571h0M1352 567h0M1358 569h0M1362 569h0M1387 568h0M1394 568h0M1399 566h0M1404 566h0M1410 570h0M1418 570h0M1421 570h0M1428 567h0M1432 568h0M1473 568h0M1480 570h0M1488 569h0M1490 569h0M1496 568h0M1503 568h0M1515 568h0M1351 573h0M1364 572h0M1385 572h0M1389 574h0M1393 576h0M1403 574h0M1405 572h0M1414 574h0M1420 573h0M1423 574h0M1429 572h0M1466 574h0M1470 572h0M1477 573h0M1486 574h0M1494 571h0M1502 572h0M1505 574h0M1393 576h0M1396 580h0M1405 580h0M1411 581h0M1415 579h0M1423 580h0M1427 579h0M1433 579h0M1440 579h0M1446 581h0M1449 578h0M1463 576h0M1467 577h0M1482 580h0M1485 580h0M1492 578h0M1495 576h0M1402 585h0M1405 584h0M1415 582h0M1420 582h0M1424 581h0M1430 582h0M1437 582h0M1440 583h0M1449 585h0M1454 583h0M1457 585h0M1484 582h0M1489 583h0M1496 583h0M1497 583h0M1402 588h0M1410 590h0M1417 590h0M1422 590h0M1425 588h0M1434 589h0M1437 586h0M1443 587h0M1452 587h0M1458 591h0M1460 588h0M1478 588h0M1488 587h0M1489 586h0M1498 587h0M1401 595h0M1406 593h0M1412 591h0M1417 593h0M1425 595h0M1431 594h0M1436 591h0M1440 593h0M1448 592h0M1452 594h0M1458 593h0M1465 591h0M1468 592h0M1475 592h0M1482 593h0M1489 595h0M1493 595h0M1395 600h0M1399 599h0M1402 597h0M1412 600h0M1417 598h0M1423 599h0M1428 598h0M1434 600h0M1441 597h0M1444 597h0M1449 600h0M1468 596h0M1472 599h0M1478 598h0M1485 600h0M1493 596h0M1391 603h0M1394 602h0M1401 604h0M1407 602h0M1413 603h0M1418 602h0M1425 604h0M1428 606h0M1435 601h0M1440 602h0M1447 605h0M1467 605h0M1468 604h0M1478 602h0M1481 602h0M1488 605h0M1394 609h0M1398 606h0M1406 611h0M1408 607h0M1414 607h0M1420 611h0M1426 609h0M1434 607h0M1440 610h0M1446 611h0M1467 606h0M1474 611h0M1478 609h0M1487 609h0M1390 612h0M1397 615h0M1399 615h0M1406 612h0M1414 613h0M1419 612h0M1424 615h0M1432 614h0M1435 614h0M1440 615h0M1446 611h0M1466 612h0M1473 613h0M1476 612h0M1481 614h0M1399 616h0M1404 619h0M1410 621h0M1415 616h0M1423 619h0M1429 617h0M1433 618h0M1440 616h0M1443 617h0M1451 619h0M1458 618h0M1464 619h0M1470 616h0M1475 617h0M1482 616h0M1394 623h0M1403 626h0M1408 623h0M1412 626h0M1418 623h0M1426 621h0M1430 625h0M1436 624h0M1443 625h0M1447 621h0M1452 624h0M1457 625h0M1467 625h0M1469 625h0M1477 624h0M1482 624h0M1486 625h0M1399 629h0M1403 627h0M1409 629h0M1414 631h0M1445 627h0M1455 627h0M1461 629h0M1468 629h0M1474 628h0M1479 627h0M1487 627h0M1455 633h0M1459 636h0M1466 635h0M1471 632h0M1475 633h0M1480 632h0M1456 638h0M1463 638h0M1469 640h0M1473 638h0M1459 646h0M1465 646h0M1471 642h0M1464 647h0M1470 648h0M1471 649h0M1458 562h0M1448 562h0M1448 567h0M1451 563h0M1506 613h0M1504 615h0M1504 621h0M1503 625h0M1497 638h0M1493 642h0M1490 651h0M1493 656h0M1493 665h0M1496 670h0M1499 671h0M1502 676h0M1507 681h0M1517 682h0M1515 677h0M1518 674h0M1516 670h0M1518 665h0M1516 662h0M1516 648h0M1518 646h0M1517 641h0M1518 639h0M1518 632h0M1516 630h0M1516 621h0M1515 612h0M1517 609h0M1517 604h0M1517 602h0M1514 604h0M1517 603h0M1514 606h0M1508 613h0M1517 612h0M1505 615h0M1511 614h0M1508 621h0M1515 623h0M1508 625h0M1512 627h0M1504 632h0M1508 630h0M1499 636h0M1508 636h0M1513 638h0M1494 643h0M1500 643h0M1501 644h0M1510 641h0M1516 641h0M1497 646h0M1502 648h0M1506 648h0M1514 648h0M1493 652h0M1498 652h0M1504 651h0M1510 650h0M1517 650h0M1494 659h0M1500 659h0M1508 657h0M1512 657h0M1499 661h0M1505 663h0M1510 663h0M1515 662h0M1499 669h0M1508 666h0M1513 666h0M1499 671h0M1503 673h0M1509 673h0M1508 679h0M1513 676h0M1508 682h0M1290 610h0M1303 604h0M1299 606h0M1300 604h0M1304 608h0M1298 607h0M1295 611h0M1307 603h0M1307 601h0M1296 614h0M1293 608h0M1296 614h0M1293 614h0M1295 615h0M1301 607h0M1295 611h0M1300 606h0M1299 613h0M1318 585h0M1331 604h0M1307 638h0M1311 653h0M1334 662h0M1342 655h0M1354 668h0M1363 662h0M1387 655h0M1352 602h0M1353 617h0M1324 619h0M1321 616h0M1326 634h0M1325 638h0M1322 642h0M1321 647h0M1323 649h0M1353 633h0M1358 637h0M1358 640h0M1384 667h0M1380 671h0M1382 674h0M1377 676h0M1362 682h0M1359 683h0M1368 681h0M1368 681h0M1365 678h0M1371 586h0M1368 586h0M1370 586h0M1367 586h0M1373 589h0M1370 586h0M1368 588h0M1371 588h0M1371 588h0M1372 591h0M1370 590h0M1361 587h0M1370 587h0M1570 605h0M1616 608h0M1597 596h0M1595 612h0M1571 603h0M1585 615h0M1608 605h0M1589 605h0M1616 610h0M1572 613h0M1571 607h0M1607 607h0M1605 614h0M1588 594h0M1605 608h0M1591 600h0M1593 605h0M1612 615h0M1604 595h0M1594 596h0M1577 601h0M1608 615h0M1523 636h0M1522 640h0M1523 651h0M1529 649h0M1532 646h0M1534 656h0M1535 659h0M1537 663h0M1533 666h0M1529 669h0M1524 671h0M1523 667h0M1524 673h0M1522 677h0M1524 683h0M1531 682h0M1535 681h0M1541 681h0M1544 673h0M1545 670h0M1549 663h0M1547 657h0M1549 652h0M1548 644h0M1554 637h0M1559 633h0M1559 639h0M1560 640h0M1560 647h0M1560 653h0M1561 656h0M1557 661h0M1553 664h0M1558 663h0M1557 667h0M1558 672h0M1557 679h0M1558 682h0M1562 683h0M1565 683h0M1569 683h0M1574 681h0M1579 682h0M1581 683h0M1587 684h0M1591 681h0M1593 682h0M1599 682h0M1604 683h0M1605 681h0M1610 683h0M1615 681h0M1619 683h0M1628 684h0M1630 682h0M1634 682h0M1635 678h0M1635 674h0M1634 671h0M1637 669h0M1641 669h0M1651 667h0M1652 673h0M1653 677h0M1652 683h0M1657 683h0M1661 683h0M1664 681h0M1666 677h0M1675 669h0M1677 664h0M1683 661h0M1680 657h0M1676 654h0M1673 651h0M1677 648h0M1679 645h0M1684 643h0M1684 640h0M1686 636h0M1684 633h0M1678 632h0M1669 632h0M1665 632h0M1658 633h0M1655 633h0M1654 629h0M1657 623h0M1656 617h0M1652 614h0M1647 614h0M1645 613h0M1640 612h0M1639 609h0M1634 607h0M1632 602h0M1629 600h0M1627 595h0M1626 599h0M1626 603h0M1624 608h0M1625 611h0M1625 614h0M1624 618h0M1625 625h0M1620 624h0M1614 624h0M1612 623h0M1602 624h0M1600 623h0M1595 622h0M1584 625h0M1580 623h0M1575 624h0M1570 622h0M1565 622h0M1560 625h0M1558 622h0M1558 618h0M1561 614h0M1564 611h0M1565 607h0M1568 603h0M1572 601h0M1573 598h0M1576 592h0M1579 589h0M1581 583h0M1584 583h0M1588 582h0M1592 580h0M1595 576h0M1597 572h0M1600 569h0M1602 564h0M1600 563h0M1594 565h0M1588 562h0M1586 564h0M1581 564h0M1574 562h0M1569 564h0M1565 564h0M1560 563h0M1558 564h0M1549 564h0M1543 562h0M1540 562h0M1536 563h0M1528 562h0M1523 568h0M1523 573h0M1523 575h0M1524 585h0M1523 590h0M1524 593h0M1522 598h0M1523 603h0M1524 606h0M1522 611h0M1524 615h0M1527 614h0M1530 617h0M1532 620h0M1534 626h0M1535 631h0M1533 631h0M1529 634h0M1523 638h0M1644 651h0M1639 654h0M1635 655h0M1633 649h0M1633 646h0M1633 641h0M1631 637h0M1631 632h0M1635 634h0M1639 636h0M1646 636h0M1646 641h0M1646 646h0M1580 628h0M1582 628h0M1589 630h0M1592 630h0M1595 630h0M1601 629h0M1604 634h0M1605 638h0M1604 641h0M1604 646h0M1604 649h0M1608 662h0M1614 663h0M1619 659h0M1619 663h0M1620 667h0M1621 673h0M1623 675h0M1618 676h0M1612 677h0M1609 679h0M1604 681h0M1605 677h0M1603 670h0M1601 669h0M1601 663h0M1601 664h0M1597 663h0M1595 660h0M1593 658h0M1592 652h0M1591 647h0M1582 642h0M1583 638h0M1582 632h0M1584 662h0M1583 667h0M1585 672h0M1586 678h0M1581 679h0M1578 680h0M1572 681h0M1567 681h0M1566 677h0M1564 675h0M1561 669h0M1561 667h0M1564 665h0M1569 666h0M1574 665h0M1578 664h0M1558 603h0M1554 608h0M1549 612h0M1545 615h0M1544 612h0M1541 606h0M1538 604h0M1536 598h0M1535 594h0M1539 587h0M1544 588h0M1551 585h0M1551 589h0M1552 595h0M1553 600h0M1530 565h0M1535 566h0M1545 566h0M1551 564h0M1558 564h0M1564 564h0M1569 564h0M1577 565h0M1586 566h0M1595 565h0M1601 565h0M1526 569h0M1533 570h0M1540 569h0M1544 568h0M1551 569h0M1557 568h0M1560 572h0M1568 569h0M1572 572h0M1577 571h0M1585 569h0M1589 571h0M1596 572h0M1530 574h0M1533 574h0M1540 573h0M1546 575h0M1552 574h0M1557 577h0M1563 575h0M1570 576h0M1575 576h0M1579 577h0M1587 576h0M1593 573h0M1527 579h0M1532 581h0M1538 579h0M1545 579h0M1549 578h0M1557 579h0M1559 580h0M1567 579h0M1573 580h0M1578 582h0M1584 581h0M1592 578h0M1529 587h0M1537 585h0M1541 584h0M1545 586h0M1554 585h0M1560 583h0M1566 586h0M1569 587h0M1577 587h0M1526 592h0M1530 588h0M1555 590h0M1563 588h0M1565 588h0M1572 589h0M1524 594h0M1529 594h0M1536 597h0M1559 593h0M1564 596h0M1570 593h0M1574 595h0M1525 600h0M1530 599h0M1563 598h0M1566 599h0M1626 601h0M1523 603h0M1528 605h0M1537 603h0M1559 603h0M1626 603h0M1633 604h0M1528 611h0M1534 611h0M1537 612h0M1551 612h0M1554 612h0M1561 611h0M1627 610h0M1629 608h0M1524 613h0M1531 617h0M1535 615h0M1540 616h0M1547 614h0M1550 616h0M1557 617h0M1628 617h0M1633 615h0M1638 615h0M1644 616h0M1650 615h0M1533 621h0M1539 620h0M1546 621h0M1550 620h0M1557 619h0M1625 622h0M1630 620h0M1635 620h0M1641 619h0M1648 620h0M1654 622h0M1535 627h0M1539 626h0M1547 625h0M1553 627h0M1560 625h0M1562 627h0M1567 626h0M1576 626h0M1581 625h0M1585 624h0M1592 624h0M1599 625h0M1602 624h0M1609 625h0M1618 624h0M1626 623h0M1634 623h0M1639 627h0M1645 627h0M1651 623h0M1537 631h0M1545 629h0M1550 632h0M1554 632h0M1561 630h0M1568 632h0M1573 629h0M1580 628h0M1586 628h0M1598 628h0M1606 629h0M1614 631h0M1618 631h0M1626 632h0M1628 631h0M1634 628h0M1640 630h0M1650 630h0M1670 632h0M1529 634h0M1534 633h0M1543 634h0M1547 636h0M1551 635h0M1563 634h0M1568 634h0M1578 633h0M1581 637h0M1606 633h0M1610 635h0M1615 635h0M1625 637h0M1627 635h0M1640 634h0M1646 633h0M1649 633h0M1658 633h0M1663 635h0M1668 637h0M1675 636h0M1679 635h0M1685 636h0M1528 640h0M1530 640h0M1538 640h0M1544 641h0M1549 641h0M1560 639h0M1569 639h0M1571 640h0M1578 641h0M1606 638h0M1614 641h0M1619 639h0M1624 638h0M1631 639h0M1649 639h0M1654 641h0M1659 640h0M1666 639h0M1671 639h0M1676 641h0M1681 639h0M1530 643h0M1537 647h0M1539 646h0M1549 643h0M1566 645h0M1571 647h0M1576 643h0M1583 647h0M1586 646h0M1613 645h0M1615 647h0M1622 644h0M1629 645h0M1646 645h0M1650 644h0M1658 647h0M1665 646h0M1670 645h0M1675 647h0M1524 650h0M1539 650h0M1544 649h0M1561 649h0M1569 650h0M1573 650h0M1580 650h0M1583 649h0M1591 652h0M1609 648h0M1612 650h0M1617 649h0M1623 651h0M1629 648h0M1648 652h0M1652 648h0M1658 649h0M1667 649h0M1671 652h0M1537 656h0M1542 654h0M1547 656h0M1565 657h0M1569 655h0M1577 657h0M1579 657h0M1586 657h0M1593 656h0M1609 653h0M1615 655h0M1622 656h0M1629 654h0M1632 657h0M1645 655h0M1650 653h0M1655 657h0M1664 654h0M1669 653h0M1676 656h0M1546 661h0M1562 659h0M1568 658h0M1574 662h0M1581 662h0M1584 662h0M1589 660h0M1595 662h0M1626 658h0M1632 662h0M1638 659h0M1644 660h0M1649 662h0M1654 660h0M1659 662h0M1666 661h0M1672 660h0M1537 667h0M1543 666h0M1546 664h0M1558 665h0M1569 664h0M1586 664h0M1594 666h0M1599 667h0M1621 665h0M1628 665h0M1634 664h0M1642 665h0M1643 666h0M1653 667h0M1659 663h0M1661 666h0M1668 667h0M1676 664h0M1533 671h0M1539 670h0M1561 671h0M1591 668h0M1595 672h0M1602 669h0M1627 669h0M1629 669h0M1653 670h0M1658 670h0M1666 671h0M1672 670h0M1529 673h0M1537 675h0M1543 674h0M1559 677h0M1564 677h0M1586 675h0M1593 673h0M1599 677h0M1623 676h0M1627 676h0M1659 677h0M1664 676h0M1526 679h0M1530 681h0M1537 681h0M1544 679h0M1562 682h0M1578 681h0M1583 680h0M1588 681h0M1597 680h0M1603 680h0M1608 680h0M1611 680h0M1618 681h0M1625 681h0M1629 678h0M1634 682h0M1656 681h0M1698 591h0M1696 593h0M1695 597h0M1697 602h0M1697 606h0M1700 610h0M1700 616h0M1701 622h0M1703 629h0M1710 629h0M1715 631h0M1717 636h0M1719 638h0M1716 646h0M1713 649h0M1709 648h0M1705 648h0M1701 646h0M1700 643h0M1699 642h0M1698 648h0M1698 654h0M1700 655h0M1703 659h0M1705 663h0M1711 662h0M1716 663h0M1717 659h0M1720 657h0M1722 653h0M1723 648h0M1726 642h0M1731 641h0M1733 637h0M1737 633h0M1740 624h0M1745 622h0M1746 618h0M1750 615h0M1751 610h0M1759 606h0M1762 602h0M1766 597h0M1768 594h0M1767 591h0M1768 585h0M1767 581h0M1768 576h0M1767 572h0M1766 567h0M1768 563h0M1763 563h0M1758 563h0M1754 564h0M1749 562h0M1748 562h0M1744 562h0M1737 562h0M1735 563h0M1731 564h0M1723 564h0M1717 563h0M1712 569h0M1712 575h0M1715 578h0M1710 582h0M1708 583h0M1703 587h0M1701 589h0M1707 587h0M1713 584h0M1717 585h0M1721 585h0M1728 587h0M1726 592h0M1724 597h0M1719 602h0M1714 602h0M1711 604h0M1705 602h0M1702 601h0M1697 600h0M1699 595h0M1712 568h0M1721 568h0M1724 568h0M1730 568h0M1738 566h0M1743 567h0M1747 566h0M1756 568h0M1761 565h0M1717 570h0M1719 572h0M1727 569h0M1735 569h0M1739 573h0M1742 573h0M1749 573h0M1758 570h0M1760 570h0M1718 578h0M1726 578h0M1729 577h0M1736 575h0M1742 575h0M1746 576h0M1753 574h0M1760 577h0M1765 576h0M1709 584h0M1716 582h0M1722 582h0M1726 581h0M1735 581h0M1737 582h0M1745 582h0M1751 581h0M1756 581h0M1761 582h0M1708 584h0M1727 586h0M1730 587h0M1736 585h0M1740 586h0M1747 585h0M1753 588h0M1758 587h0M1763 587h0M1729 591h0M1733 590h0M1741 591h0M1746 591h0M1750 592h0M1757 589h0M1760 592h0M1731 597h0M1738 597h0M1740 594h0M1747 596h0M1753 594h0M1760 594h0M1764 597h0M1697 603h0M1721 603h0M1730 602h0M1732 599h0M1738 601h0M1745 602h0M1752 602h0M1755 599h0M1761 602h0M1703 608h0M1707 604h0M1712 605h0M1717 605h0M1723 607h0M1731 608h0M1736 606h0M1741 608h0M1747 609h0M1753 608h0M1706 610h0M1708 613h0M1715 610h0M1720 612h0M1729 611h0M1734 610h0M1740 614h0M1744 611h0M1700 619h0M1705 618h0M1713 615h0M1720 618h0M1722 618h0M1730 618h0M1736 618h0M1740 615h0M1706 623h0M1709 622h0M1716 621h0M1723 623h0M1729 619h0M1732 620h0M1741 622h0M1703 628h0M1709 627h0M1714 628h0M1720 624h0M1726 626h0M1728 627h0M1734 628h0M1721 629h0M1727 632h0M1734 633h0M1722 636h0M1730 638h0M1722 643h0M1728 642h0M1699 648h0M1718 648h0M1725 645h0M1703 654h0M1709 650h0M1716 652h0M1719 652h0M1701 656h0M1706 655h0M1713 654h0M1718 657h0M1708 660h0M1715 661h0M1673 675h0M1672 681h0M1676 682h0M1680 682h0M1685 683h0M1688 683h0M1694 684h0M1691 678h0M1690 675h0M1684 673h0M1678 674h0M1680 679h0M1682 680h0M1690 681h0M1652 581h0M1661 595h0M1669 583h0M1678 586h0M1685 585h0M1667 570h0M1674 614h0M1692 619h0M1695 633h0M1651 585h0M1701 682h0M1707 684h0M1460 652h0M1462 654h0M1466 656h0M1471 655h0M1480 657h0M1485 659h0M1479 653h0M1477 653h0M1472 652h0M1467 654h0M1464 653h0M1466 654h0M1469 655h0M1477 655h0M1522 684h0M1526 686h0M1525 690h0M1521 694h0M1528 698h0M1531 703h0M1535 704h0M1540 704h0M1543 704h0M1548 705h0M1556 710h0M1560 709h0M1565 709h0M1571 705h0M1574 702h0M1578 698h0M1579 693h0M1582 688h0M1586 690h0M1591 688h0M1595 688h0M1599 690h0M1602 690h0M1606 692h0M1610 696h0M1613 699h0M1616 701h0M1623 704h0M1629 703h0M1631 700h0M1633 693h0M1636 692h0M1640 686h0M1643 689h0M1646 693h0M1651 693h0M1657 692h0M1661 694h0M1667 693h0M1670 690h0M1675 690h0M1678 686h0M1680 681h0M1683 678h0M1684 675h0M1687 670h0M1689 668h0M1692 659h0M1697 661h0M1704 660h0M1706 662h0M1712 664h0M1718 662h0M1721 661h0M1724 654h0M1718 652h0M1712 651h0M1708 653h0M1701 652h0M1699 653h0M1694 653h0M1691 653h0M1687 652h0M1683 653h0M1679 653h0M1676 652h0M1671 652h0M1667 653h0M1663 654h0M1659 651h0M1648 652h0M1643 652h0M1640 652h0M1633 652h0M1631 652h0M1626 653h0M1622 651h0M1617 653h0M1615 653h0M1607 653h0M1602 653h0M1598 652h0M1595 653h0M1588 654h0M1583 653h0M1579 653h0M1571 652h0M1567 654h0M1562 653h0M1557 653h0M1554 651h0M1550 654h0M1545 651h0M1542 652h0M1541 658h0M1542 661h0M1540 666h0M1539 668h0M1539 674h0M1540 677h0M1534 679h0M1531 680h0M1526 683h0M1526 681h0M1575 695h0M1573 696h0M1567 698h0M1563 698h0M1560 701h0M1557 703h0M1556 697h0M1553 693h0M1554 689h0M1552 684h0M1550 680h0M1549 675h0M1556 674h0M1559 673h0M1561 673h0M1566 672h0M1571 671h0M1571 675h0M1573 680h0M1572 683h0M1573 688h0M1574 692h0M1545 658h0M1552 654h0M1555 655h0M1562 658h0M1569 658h0M1574 654h0M1581 655h0M1586 655h0M1590 656h0M1597 658h0M1603 657h0M1610 657h0M1613 655h0M1623 658h0M1627 657h0M1631 658h0M1640 657h0M1642 658h0M1649 657h0M1654 657h0M1660 656h0M1666 657h0M1672 658h0M1681 658h0M1686 656h0M1691 658h0M1696 657h0M1704 657h0M1709 655h0M1713 658h0M1719 658h0M1543 659h0M1547 660h0M1556 662h0M1559 659h0M1565 663h0M1572 662h0M1579 663h0M1584 661h0M1587 661h0M1597 662h0M1599 660h0M1605 660h0M1613 662h0M1616 659h0M1624 660h0M1628 663h0M1633 663h0M1642 660h0M1647 660h0M1652 660h0M1656 663h0M1664 660h0M1672 662h0M1678 664h0M1680 659h0M1688 660h0M1703 659h0M1710 660h0M1716 660h0M1544 664h0M1550 667h0M1557 665h0M1561 664h0M1566 665h0M1575 666h0M1581 666h0M1587 664h0M1593 665h0M1595 666h0M1602 665h0M1609 664h0M1615 667h0M1622 664h0M1625 664h0M1630 666h0M1638 667h0M1641 666h0M1651 667h0M1657 667h0M1659 667h0M1668 666h0M1674 666h0M1679 665h0M1683 668h0M1541 671h0M1549 671h0M1555 670h0M1559 673h0M1570 670h0M1575 673h0M1582 672h0M1589 671h0M1594 671h0M1602 673h0M1606 673h0M1612 670h0M1619 670h0M1623 672h0M1630 672h0M1636 673h0M1642 672h0M1645 672h0M1651 672h0M1658 673h0M1665 672h0M1670 672h0M1676 673h0M1681 671h0M1688 670h0M1546 678h0M1572 678h0M1579 674h0M1585 679h0M1593 677h0M1597 678h0M1603 675h0M1610 676h0M1617 678h0M1620 676h0M1625 675h0M1634 677h0M1637 676h0M1642 675h0M1651 678h0M1656 676h0M1663 678h0M1666 677h0M1673 675h0M1681 677h0M1536 681h0M1542 682h0M1549 683h0M1552 684h0M1578 681h0M1583 680h0M1589 680h0M1593 684h0M1600 680h0M1607 683h0M1609 679h0M1616 682h0M1624 682h0M1627 684h0M1634 682h0M1639 683h0M1645 681h0M1650 683h0M1658 679h0M1666 681h0M1671 679h0M1677 681h0M1522 685h0M1528 685h0M1531 688h0M1537 687h0M1543 685h0M1550 688h0M1581 684h0M1587 687h0M1592 686h0M1598 685h0M1601 687h0M1610 688h0M1613 684h0M1618 685h0M1626 686h0M1632 685h0M1636 688h0M1642 686h0M1648 685h0M1656 685h0M1659 684h0M1665 686h0M1671 687h0M1678 685h0M1530 690h0M1537 693h0M1540 692h0M1549 693h0M1552 691h0M1576 689h0M1610 691h0M1619 691h0M1625 692h0M1629 689h0M1633 692h0M1645 691h0M1658 693h0M1661 692h0M1669 691h0M1527 694h0M1535 695h0M1538 695h0M1545 697h0M1548 695h0M1566 698h0M1572 697h0M1579 694h0M1614 696h0M1621 697h0M1624 698h0M1632 696h0M1530 700h0M1535 701h0M1542 703h0M1545 699h0M1553 702h0M1561 702h0M1564 704h0M1569 700h0M1623 700h0M1630 701h0M1544 704h0M1557 706h0M1564 706h0M1535 654h0M1533 654h0M1310 652h0M1342 654h0M1333 663h0M1362 663h0M1354 668h0M1387 654h0M1336 703h0M1349 714h0M1362 711h0M1353 698h0M1361 699h0M1629 722h0M1678 731h0M1668 689h0M1629 707h0M1382 672h0M1380 674h0M1380 680h0M1359 685h0M1362 690h0M1369 692h0M1369 686h0M1365 682h0M1364 686h0M1598 718h0M1600 721h0M1599 724h0M1597 723h0M1594 724h0M1593 725h0M1595 730h0M1591 727h0M1591 737h0M1593 733h0M1590 737h0M1591 738h0M1677 722h0M1675 717h0M1666 711h0M1669 716h0M1677 723h0M1681 718h0M1678 710h0M1681 712h0M1668 718h0M1676 715h0M1667 720h0M1672 710h0M1677 721h0M1685 713h0M1665 716h0M1667 712h0M1679 714h0M1671 719h0M1667 710h0M1680 711h0M1666 719h0M1674 710h0M1677 721h0M1685 712h0M1662 721h0M1667 715h0M1667 711h0M1678 718h0M1673 712h0M1704 684h0M1705 689h0M1705 690h0M1706 695h0M1768 582h0M1767 576h0M1774 579h0M1767 582h0M1773 586h0M1782 584h0M1783 578h0M1781 586h0M1787 581h0M1785 578h0M1784 579h0M1783 583h0M1785 579h0M1791 577h0M1789 582h0M1791 582h0M1792 580h0M1793 577h0M1794 569h0M1798 572h0M1804 566h0M1794 572h0M1796 565h0M1802 563h0M1807 565h0M1807 569h0M1806 559h0M1810 564h0M1813 565h0M1817 566h0M1815 564h0M1815 563h0M1814 570h0M1821 570h0M1824 578h0M1824 572h0M1827 573h0M1827 575h0M1826 581h0M1823 580h0M1826 578h0M1827 583h0M1830 585h0M1825 589h0M1834 590h0M1834 587h0M1833 590h0M1830 585h0M1836 592h0M1832 591h0M1840 596h0M1837 591h0M1845 592h0M1846 593h0M1838 567h0M1839 572h0M1852 570h0M1852 568h0M1851 571h0M1853 574h0M1858 568h0M1858 568h0M1857 575h0M1862 570h0M1863 573h0M1863 575h0M1859 582h0M1862 579h0M1865 580h0M1870 580h0M1866 587h0M1864 584h0M1873 589h0M1865 584h0M1871 594h0M1868 585h0M1871 597h0M1875 592h0M1873 598h0M1876 596h0M1873 596h0M1874 596h0M1878 602h0M1881 601h0M1881 605h0M1884 605h0M1887 610h0M1885 607h0M1887 605h0M1881 606h0M1887 605h0M1885 604h0M1892 607h0M1896 600h0M1893 601h0M1893 606h0M1900 603h0M1896 606h0M1900 602h0M1898 604h0M1908 595h0M1901 592h0M1906 593h0M1908 596h0M1904 594h0M1911 597h0M1909 587h0M1911 586h0M1909 587h0M1916 585h0M1915 581h0M1914 588h0M1916 587h0M1918 580h0M1916 585h0M1917 583h0M1924 598h0M1929 603h0M1926 603h0M1925 607h0M1920 609h0M1920 608h0M1921 609h0M1918 612h0M1918 615h0M1919 611h0M1939 591h0M1942 596h0M1943 599h0M1945 592h0M1942 588h0M1954 565h0M1856 637h0M2258 607h0M2159 590h0M2163 598h0M2170 588h0M2182 586h0M2199 583h0M2187 577h0M1976 561h0M1974 564h0M1971 566h0M1978 562h0M1972 572h0M1972 568h0M1975 574h0M1977 576h0M1972 571h0M1973 574h0M1979 571h0M1976 579h0M1975 578h0M1975 583h0M1974 582h0M1976 587h0M2110 563h0M2113 563h0M2116 564h0M2120 566h0M2124 572h0M2127 574h0M2132 579h0M2134 583h0M2137 590h0M2141 584h0M2148 579h0M2152 579h0M2154 575h0M2165 573h0M2168 574h0M2173 575h0M2179 573h0M2186 577h0M2192 577h0M2197 578h0M2201 580h0M2205 578h0M2210 579h0M2215 581h0M2220 581h0M2232 566h0M2232 564h0M2230 563h0M2225 563h0M2222 561h0M2214 562h0M2204 562h0M2202 563h0M2198 563h0M2194 562h0M2189 562h0M2184 562h0M2179 561h0M2173 561h0M2169 561h0M2165 562h0M2159 561h0M2157 564h0M2152 561h0M2147 562h0M2143 563h0M2141 562h0M2134 563h0M2130 562h0M2126 563h0M2122 563h0M2119 562h0M2114 562h0M2116 565h0M2121 563h0M2130 564h0M2133 564h0M2140 565h0M2147 565h0M2151 564h0M2156 563h0M2164 564h0M2167 563h0M2173 565h0M2183 564h0M2186 566h0M2190 564h0M2203 564h0M2208 565h0M2217 564h0M2221 567h0M2227 565h0M2124 569h0M2131 568h0M2139 571h0M2145 568h0M2148 567h0M2153 569h0M2161 571h0M2165 570h0M2171 570h0M2176 571h0M2182 568h0M2189 571h0M2195 570h0M2201 571h0M2207 572h0M2213 572h0M2218 568h0M2222 569h0M2230 570h0M2134 576h0M2140 574h0M2148 577h0M2155 574h0M2157 575h0M2162 572h0M2187 574h0M2195 573h0M2201 572h0M2203 576h0M2211 574h0M2215 574h0M2223 575h0M2137 581h0M2145 580h0M2151 578h0M2215 578h0M2220 580h0M2136 584h0M2141 584h0M2168 598h0M2174 602h0M2168 604h0M2176 597h0M2174 604h0M2181 601h0M2180 601h0M2181 607h0M2181 601h0M2180 607h0M2190 607h0M2188 603h0M2191 611h0M2189 607h0M2190 608h0M2190 611h0M2196 610h0M2195 607h0M2198 610h0M2198 614h0M2202 609h0M2206 612h0M2203 615h0M2201 613h0M2204 614h0M2200 614h0M2206 613h0M2208 614h0M2211 613h0M2209 610h0M2216 609h0M2214 612h0M2220 605h0M2218 605h0M2220 604h0M2218 607h0M2216 609h0M2220 600h0M2217 600h0M2217 600h0M2226 590h0M2222 592h0M2221 592h0M2220 592h0M2221 593h0M2227 587h0M2220 589h0M2226 588h0M2227 586h0M2223 586h0M2228 584h0M2226 578h0M2146 606h0M2149 608h0M2147 609h0M2146 605h0M2152 610h0M2152 611h0M2152 613h0M2154 615h0" stroke="url(#pg)" stroke-width="8.0" stroke-linecap="round" fill="none" clip-path="url(#pc)"/><line x1="275.1" y1="309.1" x2="1263" y2="309.1" stroke="#f0232b" stroke-width="5.2" stroke-dasharray="15 8.7"/><line x1="835.2" y1="207.9" x2="1266" y2="207.9" stroke="#3b302c" stroke-width="5.4" stroke-dasharray="13.5 7.6"/><line x1="1276.3" y1="543.9" x2="2264" y2="543.9" stroke="#f0232b" stroke-width="5.2" stroke-dasharray="15 8.7"/><line x1="1277.4" y1="736.9" x2="1708" y2="736.9" stroke="#3b302c" stroke-width="5.4" stroke-dasharray="13.5 7.6"/><line x1="1269.6" y1="64" x2="1269.6" y2="755" stroke="#000" stroke-width="2"/><path d="M268.5 59.5V32.0M268.5 760.0V787.5M435.4 59.5V47.0M435.4 760.0V772.5M602.2 59.5V32.0M602.2 760.0V787.5M769.0 59.5V47.0M769.0 760.0V772.5M935.9 59.5V32.0M935.9 760.0V787.5M1102.8 59.5V47.0M1102.8 760.0V772.5M1269.6 59.5V32.0M1269.6 760.0V787.5M1436.5 59.5V47.0M1436.5 760.0V772.5M1603.3 59.5V32.0M1603.3 760.0V787.5M1770.2 59.5V47.0M1770.2 760.0V772.5M1937.0 59.5V32.0M1937.0 760.0V787.5M2103.8 59.5V47.0M2103.8 760.0V772.5M2270.7 59.5V32.0M2270.7 760.0V787.5M264.5 63.8H237.0M2274.5 63.8H2302.0M264.5 162.6H252.0M2274.5 162.6H2287.0M264.5 261.4H237.0M2274.5 261.4H2302.0M264.5 360.2H252.0M2274.5 360.2H2287.0M264.5 459.1H237.0M2274.5 459.1H2302.0M264.5 557.9H252.0M2274.5 557.9H2287.0M264.5 656.7H237.0M2274.5 656.7H2302.0M264.5 755.5H252.0M2274.5 755.5H2287.0" stroke="#000" stroke-width="2.6" fill="none"/><rect x="268.5" y="63.6" width="2002" height="691.9" fill="none" stroke="#000" stroke-width="9"/><path d="M170.1 1002 L198.8 982 H2211 L2240.4 1002 L2211 1021.8 H198.8 Z" fill="#000"/><rect x="207.4" y="989.5" width="1995.3" height="25.5" fill="url(#cb)"/><rect x="207.4" y="989.5" width="1995.3" height="25.5" fill="url(#cbs)"/><path d="M182.5 1002.3 L201.3 991.6 V1013.6 Z" fill="#f25353"/><path d="M2227.6 1002.3 L2209.9 991.6 V1013.6 Z" fill="#f25353"/><path d="M203.6 1021V1038.0M370.5 1021V1029.5M537.4 1021V1038.0M704.3 1021V1029.5M871.2 1021V1038.0M1038.1 1021V1029.5M1205.0 1021V1038.0M1372.0 1021V1029.5M1538.9 1021V1038.0M1705.8 1021V1029.5M1872.7 1021V1038.0M2039.6 1021V1029.5M2206.5 1021V1038.0" stroke="#000" stroke-width="2.6" fill="none"/><text x="185.9" y="79.7" font-size="47.1" textLength="24.6" lengthAdjust="spacingAndGlyphs" fill="#231916">0</text><text x="112.7" y="278.5" font-size="48.7" textLength="100.8" lengthAdjust="spacingAndGlyphs" fill="#231916">−200</text><text x="112.7" y="476.2" font-size="48.7" textLength="100.8" lengthAdjust="spacingAndGlyphs" fill="#231916">−400</text><text x="112.7" y="673.8" font-size="48.7" textLength="100.8" lengthAdjust="spacingAndGlyphs" fill="#231916">−600</text><text x="208.2" y="849.5" font-size="47.3" textLength="126.0" lengthAdjust="spacingAndGlyphs" fill="#231916">−6000</text><text x="542.4" y="849.5" font-size="47.3" textLength="126.1" lengthAdjust="spacingAndGlyphs" fill="#231916">−4000</text><text x="876.8" y="849.5" font-size="47.3" textLength="125.5" lengthAdjust="spacingAndGlyphs" fill="#231916">−2000</text><text x="1257.2" y="849.5" font-size="47.3" textLength="25.0" lengthAdjust="spacingAndGlyphs" fill="#231916">0</text><text x="1555.8" y="849.5" font-size="47.3" textLength="101.7" lengthAdjust="spacingAndGlyphs" fill="#231916">2000</text><text x="1889.5" y="849.5" font-size="47.3" textLength="101.3" lengthAdjust="spacingAndGlyphs" fill="#231916">4000</text><text x="2222.2" y="849.5" font-size="47.3" textLength="102.6" lengthAdjust="spacingAndGlyphs" fill="#231916">6000</text><text x="166.8" y="1078.5" font-size="47.0" textLength="75.7" lengthAdjust="spacingAndGlyphs" fill="#231916">−70</text><text x="500.8" y="1078.5" font-size="47.0" textLength="76.9" lengthAdjust="spacingAndGlyphs" fill="#231916">−60</text><text x="834.5" y="1078.5" font-size="47.0" textLength="76.4" lengthAdjust="spacingAndGlyphs" fill="#231916">−50</text><text x="1168.5" y="1078.5" font-size="47.0" textLength="76.8" lengthAdjust="spacingAndGlyphs" fill="#231916">−40</text><text x="1502.2" y="1078.5" font-size="47.0" textLength="76.4" lengthAdjust="spacingAndGlyphs" fill="#231916">−30</text><text x="1836.0" y="1078.5" font-size="47.0" textLength="76.4" lengthAdjust="spacingAndGlyphs" fill="#231916">−20</text><text x="2169.8" y="1078.5" font-size="47.0" textLength="76.1" lengthAdjust="spacingAndGlyphs" fill="#231916">−10</text><text x="973.6" y="912.6" font-size="46.1" textLength="476.0" lengthAdjust="spacingAndGlyphs" fill="#231916">Distance from ridge (m)</text><text x="957.0" y="1134.3" font-size="44.4" textLength="496.0" lengthAdjust="spacingAndGlyphs" fill="#231916">Deformation rate (mm/a)</text><text x="353.8" y="140.1" font-size="49.0" textLength="63.2" lengthAdjust="spacingAndGlyphs" fill="#000">SE</text><text x="2099.2" y="140.1" font-size="50.0" textLength="79.3" lengthAdjust="spacingAndGlyphs" fill="#000">NW</text><text x="973.0" y="125.8" font-size="45.1" textLength="212.7" lengthAdjust="spacingAndGlyphs" fill="#000">lower side</text><text x="1354.8" y="125.1" font-size="44.3" textLength="220.2" lengthAdjust="spacingAndGlyphs" fill="#000">upper side</text><text x="1279.7" y="225.3" font-size="47.7" textLength="225.5" lengthAdjust="spacingAndGlyphs" fill="#000">-141.3 mm</text><text x="1279.7" y="329.0" font-size="48.0" textLength="224.8" lengthAdjust="spacingAndGlyphs" fill="#000">-250.9 mm</text><text x="1024.2" y="559.5" font-size="45.7" textLength="226.3" lengthAdjust="spacingAndGlyphs" fill="#000">-473.5 mm</text><text x="1029.8" y="746.1" font-size="48.0" textLength="225.0" lengthAdjust="spacingAndGlyphs" fill="#000">-680.7 mm</text><text x="78.2" y="699.5" font-size="47.6" textLength="589.8" lengthAdjust="spacingAndGlyphs" transform="rotate(-90 78.2 699.5)" fill="#231916">Vertical displacement (mm)</text><path d="M286 120.6 H338 M303.6 107.5 L285.5 120.6 L303.6 133.8" stroke="#000" stroke-width="3.2" fill="none"/><path d="M2195 122.5 H2245 M2228.1 110.2 L2245.6 122.5 L2228.1 135.8" stroke="#000" stroke-width="3.2" fill="none"/><path d="M1218 79.5 V140.5 M1204.9 121.7 L1218 141 L1231.1 121.7" stroke="#000" stroke-width="2.2" fill="none"/><path d="M1318.6 142.1 V81 M1305.5 99.4 L1318.6 80.5 L1331.7 99.4" stroke="#000" stroke-width="2.2" fill="none"/></svg></body></html>
